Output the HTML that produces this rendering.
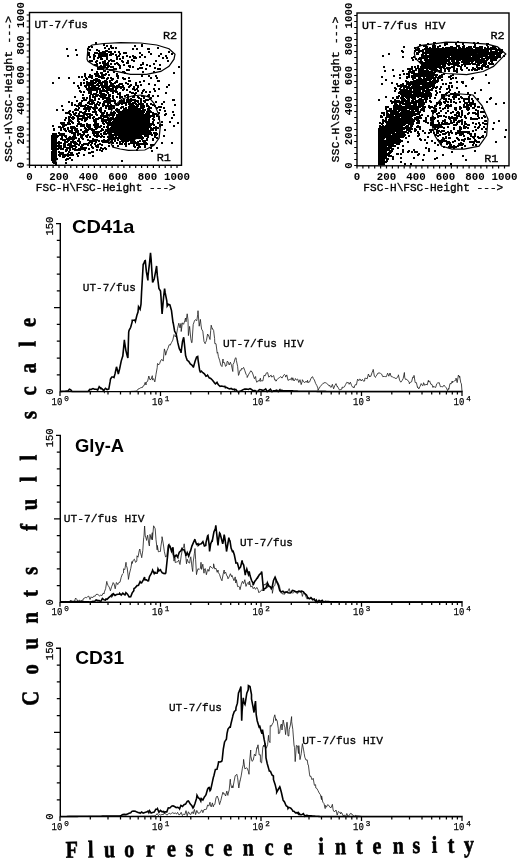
<!DOCTYPE html>
<html><head><meta charset="utf-8"><title>Flow cytometry</title>
<style>html,body{margin:0;padding:0;background:#fff;width:520px;height:861px;overflow:hidden}svg{display:block;filter:grayscale(1)}</style>
</head><body><svg width="520" height="861" viewBox="0 0 520 861"><g transform="translate(0,0)"><path d="M0 0m96 43h0m8 2h0m38 0h0m-35 1h0m4 0h0m24 0h0m7 0h0m-53 1h0m3 0h0m19 0h0m-6 1h0m7 0h0m1 0h0m3 0h0m42 0h0m-91 1h0m21 0h0m21 0h0m24 0h0m4 0h0m11 0h0m1 0h0m-73 1h0m14 0h0m7 0h0m2 1h0m7 0h0m1 0h0m-4 1h0m2 0h0m4 0h0m2 0h0m4 0h0m4 0h0m30 0h0m20 0h0m-80 1h0m6 0h0m2 0h0m3 0h0m2 0h0m1 0h0m1 0h0m1 0h0m19 0h0m2 0h0m14 0h0m-41 1h0m1 0h0m2 0h0m2 0h0m1 0h0m1 0h0m1 0h0m4 0h0m1 0h0m1 0h0m7 0h0m31 0h0m10 0h0m11 0h0m-95 1h0m11 0h0m1 0h0m5 0h0m5 0h0m3 0h0m3 0h0m5 0h0m1 0h0m5 0h0m26 0h0m-74 1h0m27 0h0m5 0h0m2 0h0m1 0h0m2 0h0m2 0h0m12 0h0m8 0h0m6 0h0m26 0h0m7 0h0m-76 1h0m4 0h0m5 0h0m2 0h0m6 0h0m10 0h0m6 0h0m7 0h0m5 0h0m5 0h0m5 0h0m-47 1h0m25 0h0m11 0h0m2 0h0m27 0h0m4 0h0m-73 1h0m7 0h0m1 0h0m5 0h0m10 0h0m3 0h0m-9 1h0m21 0h0m-42 1h0m2 0h0m5 0h0m8 0h0m4 0h0m3 0h0m2 0h0m8 0h0m6 0h0m6 0h0m22 0h0m12 0h0m-72 1h0m7 0h0m1 0h0m1 0h0m18 0h0m-23 1h0m3 0h0m5 0h0m9 0h0m10 0h0m1 0h0m15 0h0m-46 1h0m7 0h0m1 0h0m2 0h0m1 0h0m3 0h0m4 0h0m3 0h0m25 0h0m11 0h0m-59 1h0m1 0h0m1 0h0m9 0h0m13 0h0m5 0h0m17 0h0m6 0h0m13 0h0m-59 1h0m3 0h0m4 0h0m1 0h0m11 0h0m9 0h0m1 0h0m20 0h0m-50 1h0m2 0h0m2 0h0m1 0h0m3 0h0m3 0h0m2 0h0m17 0h0m3 0h0m46 0h0m-81 1h0m9 0h0m13 0h0m20 0h0m2 0h0m13 0h0m-57 1h0m1 0h0m2 0h0m2 0h0m4 0h0m7 0h0m2 0h0m22 0h0m8 0h0m12 0h0m2 0h0m-68 1h0m18 0h0m2 0h0m15 0h0m2 0h0m-25 1h0m1 0h0m-8 1h0m11 0h0m6 0h0m9 0h0m1 0h0m19 0h0m11 0h0m-57 1h0m4 0h0m1 0h0m23 0h0m49 0h0m-89 1h0m10 0h0m2 0h0m1 0h0m8 0h0m11 0h0m-27 1h0m8 0h0m4 0h0m2 0h0m1 0h0m4 0h0m-24 1h0m7 0h0m4 0h0m2 0h0m1 0h0m4 0h0m14 0h0m1 0h0m24 0h0m7 0h0m7 0h0m-77 1h0m3 0h0m7 0h0m1 0h0m9 0h0m2 0h0m-42 1h0m10 0h0m17 0h0m6 0h0m10 0h0m2 0h0m4 0h0m3 0h0m7 0h0m5 0h0m6 0h0m22 0h0m6 0h0m-70 1h0m9 0h0m1 0h0m10 0h0m6 0h0m11 0h0m1 0h0m-41 1h0m10 0h0m2 0h0m3 0h0m13 0h0m-21 1h0m2 0h0m5 0h0m1 0h0m1 0h0m5 0h0m1 0h0m4 0h0m7 0h0m12 0h0m1 0h0m14 0h0m14 0h0m1 0h0m-72 1h0m9 0h0m4 0h0m3 0h0m1 0h0m1 0h0m1 0h0m1 0h0m3 0h0m6 0h0m1 0h0m23 0h0m-87 1h0m21 0h0m7 0h0m3 0h0m5 0h0m2 0h0m1 0h0m2 0h0m1 0h0m4 0h0m2 0h0m6 0h0m4 0h0m4 0h0m11 0h0m10 0h0m-49 1h0m4 0h0m1 0h0m6 0h0m4 0h0m3 0h0m6 0h0m1 0h0m1 0h0m7 0h0m2 0h0m6 0h0m8 0h0m13 0h0m-68 1h0m6 0h0m2 0h0m2 0h0m1 0h0m1 0h0m4 0h0m1 0h0m3 0h0m4 0h0m2 0h0m12 0h0m12 0h0m5 0h0m5 0h0m14 0h0m14 0h0m-91 1h0m7 0h0m7 0h0m3 0h0m4 0h0m4 0h0m3 0h0m4 0h0m2 0h0m2 0h0m3 0h0m2 0h0m4 0h0m7 0h0m8 0h0m-52 1h0m3 0h0m5 0h0m8 0h0m3 0h0m3 0h0m6 0h0m1 0h0m1 0h0m2 0h0m2 0h0m2 0h0m7 0h0m5 0h0m4 0h0m29 0h0m-88 1h0m10 0h0m1 0h0m1 0h0m2 0h0m2 0h0m1 0h0m2 0h0m5 0h0m3 0h0m1 0h0m1 0h0m1 0h0m4 0h0m4 0h0m4 0h0m3 0h0m-37 1h0m2 0h0m2 0h0m1 0h0m6 0h0m2 0h0m3 0h0m4 0h0m1 0h0m2 0h0m1 0h0m1 0h0m1 0h0m3 0h0m8 0h0m9 0h0m1 0h0m3 0h0m17 0h0m5 0h0m-71 1h0m2 0h0m2 0h0m2 0h0m1 0h0m2 0h0m7 0h0m3 0h0m2 0h0m3 0h0m4 0h0m7 0h0m4 0h0m8 0h0m9 0h0m-64 1h0m17 0h0m3 0h0m1 0h0m2 0h0m1 0h0m2 0h0m1 0h0m4 0h0m2 0h0m1 0h0m1 0h0m23 0h0m5 0h0m12 0h0m-74 1h0m3 0h0m5 0h0m2 0h0m6 0h0m4 0h0m6 0h0m9 0h0m1 0h0m13 0h0m16 0h0m4 0h0m-61 1h0m1 0h0m1 0h0m9 0h0m8 0h0m5 0h0m7 0h0m12 0h0m1 0h0m3 0h0m6 0h0m24 0h0m-75 1h0m3 0h0m1 0h0m1 0h0m5 0h0m1 0h0m2 0h0m14 0h0m1 0h0m16 0h0m-52 1h0m10 0h0m4 0h0m1 0h0m6 0h0m1 0h0m1 0h0m3 0h0m1 0h0m10 0h0m7 0h0m1 0h0m21 0h0m-59 1h0m6 0h0m1 0h0m3 0h0m1 0h0m2 0h0m1 0h0m6 0h0m3 0h0m7 0h0m5 0h0m9 0h0m8 0h0m6 0h0m1 0h0m4 0h0m5 0h0m-83 1h0m15 0h0m3 0h0m2 0h0m6 0h0m1 0h0m1 0h0m2 0h0m4 0h0m8 0h0m3 0h0m2 0h0m6 0h0m5 0h0m1 0h0m4 0h0m6 0h0m-61 1h0m1 0h0m3 0h0m8 0h0m9 0h0m2 0h0m2 0h0m5 0h0m7 0h0m8 0h0m11 0h0m5 0h0m7 0h0m-67 1h0m6 0h0m9 0h0m4 0h0m7 0h0m21 0h0m10 0h0m9 0h0m-66 1h0m1 0h0m1 0h0m6 0h0m3 0h0m12 0h0m2 0h0m5 0h0m10 0h0m3 0h0m2 0h0m1 0h0m3 0h0m2 0h0m11 0h0m2 0h0m25 0h0m1 0h0m-97 1h0m5 0h0m8 0h0m2 0h0m1 0h0m12 0h0m6 0h0m2 0h0m1 0h0m1 0h0m5 0h0m1 0h0m2 0h0m4 0h0m1 0h0m1 0h0m2 0h0m5 0h0m2 0h0m3 0h0m3 0h0m-75 1h0m20 0h0m9 0h0m6 0h0m2 0h0m1 0h0m2 0h0m13 0h0m2 0h0m4 0h0m7 0h0m3 0h0m7 0h0m11 0h0m8 0h0m-92 1h0m8 0h0m1 0h0m7 0h0m4 0h0m1 0h0m1 0h0m6 0h0m10 0h0m5 0h0m5 0h0m2 0h0m2 0h0m2 0h0m4 0h0m3 0h0m1 0h0m7 0h0m-62 1h0m2 0h0m9 0h0m1 0h0m1 0h0m5 0h0m6 0h0m1 0h0m4 0h0m8 0h0m3 0h0m3 0h0m7 0h0m1 0h0m1 0h0m2 0h0m3 0h0m3 0h0m1 0h0m2 0h0m1 0h0m4 0h0m4 0h0m11 0h0m-90 1h0m3 0h0m5 0h0m6 0h0m9 0h0m4 0h0m4 0h0m1 0h0m7 0h0m6 0h0m1 0h0m8 0h0m4 0h0m2 0h0m5 0h0m16 0h0m22 0h0m-113 1h0m15 0h0m1 0h0m3 0h0m1 0h0m2 0h0m4 0h0m7 0h0m1 0h0m7 0h0m3 0h0m1 0h0m2 0h0m2 0h0m1 0h0m1 0h0m18 0h0m3 0h0m4 0h0m3 0h0m1 0h0m2 0h0m3 0h0m1 0h0m7 0h0m-70 1h0m3 0h0m1 0h0m2 0h0m18 0h0m1 0h0m1 0h0m3 0h0m8 0h0m1 0h0m6 0h0m1 0h0m1 0h0m1 0h0m1 0h0m2 0h0m1 0h0m6 0h0m2 0h0m5 0h0m10 0h0m2 0h0m-82 1h0m8 0h0m6 0h0m2 0h0m2 0h0m4 0h0m5 0h0m8 0h0m7 0h0m5 0h0m3 0h0m3 0h0m1 0h0m2 0h0m2 0h0m4 0h0m10 0h0m6 0h0m7 0h0m-88 1h0m8 0h0m1 0h0m1 0h0m1 0h0m2 0h0m1 0h0m4 0h0m6 0h0m1 0h0m8 0h0m2 0h0m6 0h0m7 0h0m1 0h0m1 0h0m3 0h0m2 0h0m2 0h0m1 0h0m1 0h0m1 0h0m2 0h0m1 0h0m1 0h0m3 0h0m5 0h0m1 0h0m-92 1h0m6 0h0m12 0h0m2 0h0m1 0h0m8 0h0m9 0h0m4 0h0m17 0h0m2 0h0m1 0h0m7 0h0m2 0h0m2 0h0m1 0h0m1 0h0m1 0h0m1 0h0m1 0h0m1 0h0m1 0h0m2 0h0m1 0h0m5 0h0m4 0h0m11 0h0m-90 1h0m16 0h0m3 0h0m11 0h0m1 0h0m4 0h0m12 0h0m1 0h0m1 0h0m4 0h0m2 0h0m2 0h0m1 0h0m1 0h0m1 0h0m1 0h0m2 0h0m3 0h0m1 0h0m1 0h0m1 0h0m1 0h0m1 0h0m1 0h0m1 0h0m5 0h0m2 0h0m15 0h0m-96 1h0m4 0h0m7 0h0m1 0h0m4 0h0m8 0h0m1 0h0m2 0h0m5 0h0m13 0h0m4 0h0m3 0h0m1 0h0m1 0h0m1 0h0m1 0h0m1 0h0m1 0h0m1 0h0m1 0h0m1 0h0m1 0h0m1 0h0m1 0h0m1 0h0m1 0h0m2 0h0m1 0h0m2 0h0m1 0h0m1 0h0m1 0h0m1 0h0m3 0h0m2 0h0m2 0h0m22 0h0m-107 1h0m2 0h0m8 0h0m7 0h0m19 0h0m2 0h0m3 0h0m4 0h0m1 0h0m3 0h0m4 0h0m1 0h0m1 0h0m1 0h0m1 0h0m1 0h0m1 0h0m1 0h0m1 0h0m1 0h0m1 0h0m1 0h0m1 0h0m1 0h0m1 0h0m2 0h0m1 0h0m1 0h0m1 0h0m1 0h0m1 0h0m1 0h0m1 0h0m1 0h0m5 0h0m5 0h0m6 0h0m-89 1h0m4 0h0m1 0h0m4 0h0m6 0h0m1 0h0m2 0h0m2 0h0m6 0h0m6 0h0m1 0h0m8 0h0m1 0h0m1 0h0m1 0h0m5 0h0m1 0h0m1 0h0m1 0h0m1 0h0m1 0h0m2 0h0m1 0h0m1 0h0m1 0h0m1 0h0m1 0h0m1 0h0m1 0h0m1 0h0m1 0h0m1 0h0m1 0h0m1 0h0m1 0h0m1 0h0m2 0h0m1 0h0m3 0h0m2 0h0m1 0h0m4 0h0m2 0h0m1 0h0m10 0h0m-95 1h0m4 0h0m9 0h0m3 0h0m5 0h0m5 0h0m10 0h0m2 0h0m1 0h0m1 0h0m2 0h0m1 0h0m3 0h0m1 0h0m1 0h0m1 0h0m1 0h0m1 0h0m1 0h0m1 0h0m1 0h0m1 0h0m1 0h0m3 0h0m1 0h0m1 0h0m1 0h0m1 0h0m3 0h0m1 0h0m1 0h0m1 0h0m1 0h0m1 0h0m1 0h0m1 0h0m2 0h0m1 0h0m2 0h0m5 0h0m3 0h0m8 0h0m9 0h0m-97 1h0m2 0h0m2 0h0m2 0h0m7 0h0m11 0h0m2 0h0m2 0h0m2 0h0m10 0h0m1 0h0m1 0h0m2 0h0m1 0h0m1 0h0m1 0h0m3 0h0m1 0h0m1 0h0m1 0h0m1 0h0m1 0h0m1 0h0m1 0h0m1 0h0m1 0h0m1 0h0m1 0h0m1 0h0m1 0h0m1 0h0m1 0h0m1 0h0m2 0h0m1 0h0m1 0h0m4 0h0m2 0h0m4 0h0m-88 1h0m1 0h0m3 0h0m11 0h0m4 0h0m6 0h0m7 0h0m3 0h0m2 0h0m7 0h0m5 0h0m1 0h0m1 0h0m1 0h0m1 0h0m1 0h0m1 0h0m1 0h0m1 0h0m1 0h0m1 0h0m1 0h0m1 0h0m1 0h0m1 0h0m1 0h0m1 0h0m1 0h0m1 0h0m1 0h0m2 0h0m1 0h0m1 0h0m1 0h0m1 0h0m1 0h0m1 0h0m1 0h0m1 0h0m2 0h0m1 0h0m4 0h0m5 0h0m-93 1h0m3 0h0m3 0h0m1 0h0m1 0h0m4 0h0m5 0h0m2 0h0m2 0h0m3 0h0m3 0h0m6 0h0m2 0h0m7 0h0m3 0h0m5 0h0m2 0h0m1 0h0m1 0h0m1 0h0m1 0h0m1 0h0m2 0h0m1 0h0m1 0h0m1 0h0m1 0h0m1 0h0m1 0h0m1 0h0m1 0h0m1 0h0m3 0h0m1 0h0m1 0h0m1 0h0m1 0h0m1 0h0m1 0h0m1 0h0m1 0h0m2 0h0m1 0h0m1 0h0m10 0h0m13 0h0m-99 1h0m5 0h0m2 0h0m2 0h0m3 0h0m2 0h0m9 0h0m2 0h0m5 0h0m5 0h0m1 0h0m3 0h0m1 0h0m2 0h0m1 0h0m1 0h0m1 0h0m1 0h0m1 0h0m1 0h0m1 0h0m1 0h0m1 0h0m1 0h0m1 0h0m1 0h0m1 0h0m1 0h0m1 0h0m1 0h0m1 0h0m1 0h0m1 0h0m1 0h0m1 0h0m1 0h0m1 0h0m1 0h0m1 0h0m1 0h0m1 0h0m1 0h0m1 0h0m1 0h0m1 0h0m1 0h0m1 0h0m1 0h0m4 0h0m6 0h0m-94 1h0m4 0h0m1 0h0m12 0h0m4 0h0m8 0h0m8 0h0m3 0h0m2 0h0m2 0h0m2 0h0m3 0h0m1 0h0m1 0h0m2 0h0m1 0h0m1 0h0m1 0h0m1 0h0m1 0h0m1 0h0m1 0h0m2 0h0m2 0h0m1 0h0m1 0h0m1 0h0m1 0h0m1 0h0m1 0h0m1 0h0m1 0h0m2 0h0m1 0h0m1 0h0m1 0h0m1 0h0m1 0h0m1 0h0m1 0h0m1 0h0m7 0h0m-83 1h0m7 0h0m7 0h0m9 0h0m2 0h0m6 0h0m2 0h0m1 0h0m10 0h0m1 0h0m1 0h0m1 0h0m1 0h0m1 0h0m1 0h0m1 0h0m1 0h0m1 0h0m1 0h0m1 0h0m1 0h0m1 0h0m1 0h0m1 0h0m1 0h0m1 0h0m1 0h0m1 0h0m1 0h0m1 0h0m1 0h0m1 0h0m1 0h0m2 0h0m1 0h0m1 0h0m1 0h0m1 0h0m1 0h0m1 0h0m1 0h0m1 0h0m-80 1h0m3 0h0m7 0h0m16 0h0m11 0h0m3 0h0m1 0h0m3 0h0m3 0h0m1 0h0m1 0h0m1 0h0m1 0h0m2 0h0m1 0h0m1 0h0m1 0h0m1 0h0m2 0h0m1 0h0m1 0h0m1 0h0m1 0h0m1 0h0m1 0h0m1 0h0m1 0h0m1 0h0m1 0h0m2 0h0m1 0h0m1 0h0m1 0h0m2 0h0m1 0h0m1 0h0m6 0h0m9 0h0m8 0h0m-109 1h0m2 0h0m1 0h0m4 0h0m5 0h0m22 0h0m1 0h0m7 0h0m4 0h0m4 0h0m4 0h0m1 0h0m1 0h0m1 0h0m1 0h0m2 0h0m1 0h0m1 0h0m2 0h0m1 0h0m1 0h0m1 0h0m2 0h0m1 0h0m1 0h0m1 0h0m1 0h0m1 0h0m1 0h0m1 0h0m1 0h0m1 0h0m1 0h0m1 0h0m1 0h0m1 0h0m1 0h0m1 0h0m1 0h0m1 0h0m1 0h0m1 0h0m4 0h0m5 0h0m20 0h0m-116 1h0m2 0h0m4 0h0m2 0h0m8 0h0m2 0h0m1 0h0m6 0h0m11 0h0m6 0h0m4 0h0m2 0h0m1 0h0m1 0h0m1 0h0m3 0h0m1 0h0m1 0h0m1 0h0m1 0h0m1 0h0m1 0h0m1 0h0m1 0h0m1 0h0m1 0h0m1 0h0m1 0h0m1 0h0m3 0h0m1 0h0m1 0h0m1 0h0m1 0h0m1 0h0m1 0h0m2 0h0m1 0h0m1 0h0m1 0h0m1 0h0m1 0h0m1 0h0m1 0h0m1 0h0m1 0h0m1 0h0m1 0h0m1 0h0m1 0h0m-90 1h0m3 0h0m16 0h0m2 0h0m4 0h0m2 0h0m4 0h0m1 0h0m1 0h0m12 0h0m2 0h0m1 0h0m1 0h0m1 0h0m1 0h0m1 0h0m1 0h0m1 0h0m2 0h0m1 0h0m1 0h0m1 0h0m1 0h0m1 0h0m2 0h0m1 0h0m1 0h0m1 0h0m1 0h0m1 0h0m1 0h0m1 0h0m1 0h0m4 0h0m1 0h0m1 0h0m1 0h0m1 0h0m1 0h0m2 0h0m2 0h0m1 0h0m3 0h0m3 0h0m6 0h0m1 0h0m1 0h0m-109 1h0m11 0h0m13 0h0m4 0h0m2 0h0m1 0h0m3 0h0m2 0h0m1 0h0m5 0h0m3 0h0m3 0h0m11 0h0m2 0h0m1 0h0m1 0h0m1 0h0m1 0h0m1 0h0m1 0h0m1 0h0m1 0h0m1 0h0m1 0h0m1 0h0m1 0h0m1 0h0m1 0h0m1 0h0m1 0h0m1 0h0m1 0h0m1 0h0m1 0h0m1 0h0m1 0h0m1 0h0m1 0h0m1 0h0m2 0h0m1 0h0m2 0h0m1 0h0m2 0h0m2 0h0m11 0h0m14 0h0m-115 1h0m1 0h0m3 0h0m8 0h0m1 0h0m2 0h0m14 0h0m2 0h0m5 0h0m1 0h0m2 0h0m1 0h0m1 0h0m4 0h0m3 0h0m6 0h0m2 0h0m1 0h0m1 0h0m1 0h0m2 0h0m2 0h0m1 0h0m1 0h0m1 0h0m1 0h0m1 0h0m1 0h0m1 0h0m1 0h0m2 0h0m3 0h0m1 0h0m1 0h0m1 0h0m1 0h0m2 0h0m1 0h0m1 0h0m1 0h0m1 0h0m1 0h0m1 0h0m1 0h0m1 0h0m1 0h0m6 0h0m-95 1h0m7 0h0m3 0h0m3 0h0m1 0h0m10 0h0m11 0h0m1 0h0m11 0h0m3 0h0m1 0h0m1 0h0m1 0h0m1 0h0m1 0h0m1 0h0m1 0h0m1 0h0m1 0h0m1 0h0m1 0h0m1 0h0m1 0h0m1 0h0m1 0h0m1 0h0m1 0h0m1 0h0m1 0h0m1 0h0m1 0h0m1 0h0m1 0h0m1 0h0m1 0h0m1 0h0m1 0h0m1 0h0m1 0h0m2 0h0m1 0h0m1 0h0m1 0h0m1 0h0m1 0h0m1 0h0m3 0h0m3 0h0m4 0h0m-104 1h0m7 0h0m3 0h0m1 0h0m3 0h0m4 0h0m5 0h0m9 0h0m3 0h0m1 0h0m2 0h0m4 0h0m6 0h0m6 0h0m2 0h0m2 0h0m3 0h0m1 0h0m1 0h0m1 0h0m1 0h0m1 0h0m2 0h0m1 0h0m1 0h0m1 0h0m1 0h0m1 0h0m1 0h0m1 0h0m1 0h0m1 0h0m1 0h0m1 0h0m1 0h0m1 0h0m1 0h0m1 0h0m1 0h0m1 0h0m1 0h0m1 0h0m2 0h0m1 0h0m1 0h0m1 0h0m1 0h0m1 0h0m3 0h0m2 0h0m3 0h0m-102 1h0m7 0h0m4 0h0m10 0h0m1 0h0m5 0h0m7 0h0m4 0h0m2 0h0m9 0h0m3 0h0m4 0h0m2 0h0m1 0h0m1 0h0m1 0h0m1 0h0m1 0h0m1 0h0m1 0h0m1 0h0m1 0h0m1 0h0m1 0h0m1 0h0m1 0h0m1 0h0m1 0h0m1 0h0m1 0h0m1 0h0m1 0h0m1 0h0m1 0h0m1 0h0m1 0h0m1 0h0m1 0h0m1 0h0m1 0h0m1 0h0m1 0h0m2 0h0m1 0h0m1 0h0m1 0h0m1 0h0m1 0h0m4 0h0m1 0h0m3 0h0m9 0h0m-99 1h0m3 0h0m1 0h0m2 0h0m6 0h0m7 0h0m2 0h0m6 0h0m8 0h0m6 0h0m2 0h0m2 0h0m3 0h0m2 0h0m1 0h0m1 0h0m2 0h0m1 0h0m1 0h0m1 0h0m1 0h0m1 0h0m2 0h0m2 0h0m1 0h0m1 0h0m1 0h0m1 0h0m1 0h0m1 0h0m1 0h0m1 0h0m1 0h0m1 0h0m1 0h0m1 0h0m1 0h0m1 0h0m1 0h0m1 0h0m1 0h0m1 0h0m1 0h0m2 0h0m-80 1h0m6 0h0m1 0h0m6 0h0m2 0h0m2 0h0m6 0h0m1 0h0m1 0h0m2 0h0m2 0h0m6 0h0m4 0h0m3 0h0m1 0h0m1 0h0m1 0h0m1 0h0m1 0h0m1 0h0m1 0h0m1 0h0m1 0h0m1 0h0m1 0h0m1 0h0m1 0h0m1 0h0m1 0h0m1 0h0m1 0h0m1 0h0m1 0h0m2 0h0m1 0h0m1 0h0m2 0h0m1 0h0m1 0h0m1 0h0m1 0h0m1 0h0m1 0h0m1 0h0m1 0h0m1 0h0m4 0h0m-91 1h0m13 0h0m2 0h0m4 0h0m6 0h0m9 0h0m1 0h0m2 0h0m8 0h0m1 0h0m3 0h0m2 0h0m1 0h0m4 0h0m2 0h0m1 0h0m2 0h0m1 0h0m1 0h0m1 0h0m1 0h0m1 0h0m1 0h0m1 0h0m1 0h0m1 0h0m1 0h0m1 0h0m1 0h0m1 0h0m1 0h0m1 0h0m1 0h0m1 0h0m1 0h0m1 0h0m1 0h0m1 0h0m1 0h0m1 0h0m1 0h0m1 0h0m3 0h0m3 0h0m3 0h0m2 0h0m-103 1h0m1 0h0m1 0h0m1 0h0m4 0h0m1 0h0m1 0h0m2 0h0m11 0h0m4 0h0m1 0h0m4 0h0m14 0h0m3 0h0m3 0h0m1 0h0m1 0h0m4 0h0m1 0h0m4 0h0m3 0h0m1 0h0m1 0h0m1 0h0m1 0h0m1 0h0m1 0h0m1 0h0m1 0h0m1 0h0m1 0h0m1 0h0m1 0h0m1 0h0m1 0h0m1 0h0m1 0h0m1 0h0m1 0h0m1 0h0m1 0h0m1 0h0m1 0h0m1 0h0m1 0h0m1 0h0m3 0h0m2 0h0m2 0h0m7 0h0m-104 1h0m3 0h0m4 0h0m2 0h0m1 0h0m1 0h0m10 0h0m1 0h0m3 0h0m3 0h0m2 0h0m5 0h0m6 0h0m3 0h0m14 0h0m2 0h0m2 0h0m1 0h0m2 0h0m2 0h0m1 0h0m1 0h0m1 0h0m2 0h0m1 0h0m1 0h0m1 0h0m1 0h0m1 0h0m1 0h0m2 0h0m1 0h0m1 0h0m1 0h0m1 0h0m1 0h0m1 0h0m2 0h0m4 0h0m1 0h0m1 0h0m1 0h0m4 0h0m3 0h0m1 0h0m-104 1h0m2 0h0m1 0h0m1 0h0m2 0h0m7 0h0m1 0h0m9 0h0m6 0h0m5 0h0m9 0h0m4 0h0m3 0h0m8 0h0m2 0h0m7 0h0m2 0h0m1 0h0m1 0h0m2 0h0m1 0h0m4 0h0m1 0h0m1 0h0m1 0h0m1 0h0m1 0h0m1 0h0m2 0h0m1 0h0m1 0h0m5 0h0m2 0h0m1 0h0m16 0h0m-112 1h0m1 0h0m1 0h0m1 0h0m1 0h0m1 0h0m5 0h0m4 0h0m4 0h0m3 0h0m1 0h0m7 0h0m1 0h0m5 0h0m3 0h0m7 0h0m4 0h0m3 0h0m4 0h0m5 0h0m3 0h0m3 0h0m1 0h0m1 0h0m1 0h0m1 0h0m3 0h0m1 0h0m1 0h0m1 0h0m2 0h0m1 0h0m1 0h0m1 0h0m1 0h0m1 0h0m1 0h0m3 0h0m2 0h0m6 0h0m7 0h0m-103 1h0m1 0h0m1 0h0m1 0h0m1 0h0m6 0h0m7 0h0m3 0h0m4 0h0m6 0h0m27 0h0m1 0h0m1 0h0m2 0h0m1 0h0m3 0h0m1 0h0m2 0h0m3 0h0m2 0h0m3 0h0m1 0h0m2 0h0m1 0h0m1 0h0m1 0h0m3 0h0m1 0h0m2 0h0m1 0h0m2 0h0m14 0h0m-105 1h0m2 0h0m1 0h0m1 0h0m5 0h0m6 0h0m1 0h0m3 0h0m2 0h0m1 0h0m5 0h0m4 0h0m10 0h0m18 0h0m2 0h0m1 0h0m1 0h0m6 0h0m2 0h0m1 0h0m1 0h0m1 0h0m3 0h0m1 0h0m1 0h0m1 0h0m2 0h0m8 0h0m5 0h0m6 0h0m-99 1h0m1 0h0m1 0h0m7 0h0m2 0h0m4 0h0m10 0h0m9 0h0m7 0h0m2 0h0m7 0h0m4 0h0m7 0h0m3 0h0m5 0h0m3 0h0m1 0h0m3 0h0m1 0h0m1 0h0m2 0h0m13 0h0m6 0h0m-101 1h0m1 0h0m1 0h0m1 0h0m1 0h0m12 0h0m5 0h0m5 0h0m12 0h0m2 0h0m2 0h0m5 0h0m3 0h0m4 0h0m6 0h0m3 0h0m7 0h0m3 0h0m1 0h0m1 0h0m1 0h0m3 0h0m3 0h0m6 0h0m3 0h0m2 0h0m-93 1h0m1 0h0m1 0h0m1 0h0m1 0h0m3 0h0m6 0h0m2 0h0m4 0h0m1 0h0m1 0h0m2 0h0m5 0h0m10 0h0m2 0h0m4 0h0m7 0h0m2 0h0m1 0h0m1 0h0m1 0h0m3 0h0m1 0h0m8 0h0m3 0h0m8 0h0m1 0h0m2 0h0m1 0h0m3 0h0m6 0h0m-92 1h0m3 0h0m1 0h0m2 0h0m2 0h0m1 0h0m10 0h0m3 0h0m2 0h0m4 0h0m9 0h0m3 0h0m17 0h0m4 0h0m4 0h0m3 0h0m6 0h0m5 0h0m1 0h0m2 0h0m1 0h0m1 0h0m1 0h0m9 0h0m16 0h0m10 0h0m-120 1h0m1 0h0m1 0h0m2 0h0m8 0h0m1 0h0m4 0h0m6 0h0m1 0h0m1 0h0m7 0h0m2 0h0m1 0h0m8 0h0m5 0h0m20 0h0m2 0h0m3 0h0m4 0h0m10 0h0m1 0h0m1 0h0m2 0h0m2 0h0m2 0h0m-95 1h0m1 0h0m2 0h0m1 0h0m3 0h0m5 0h0m1 0h0m3 0h0m1 0h0m2 0h0m8 0h0m3 0h0m1 0h0m5 0h0m3 0h0m7 0h0m4 0h0m24 0h0m8 0h0m3 0h0m14 0h0m2 0h0m-100 1h0m1 0h0m2 0h0m1 0h0m1 0h0m3 0h0m3 0h0m7 0h0m2 0h0m2 0h0m7 0h0m14 0h0m13 0h0m4 0h0m5 0h0m8 0h0m8 0h0m5 0h0m6 0h0m-93 1h0m1 0h0m1 0h0m1 0h0m1 0h0m3 0h0m2 0h0m3 0h0m1 0h0m5 0h0m1 0h0m1 0h0m4 0h0m5 0h0m11 0h0m5 0h0m1 0h0m37 0h0m5 0h0m5 0h0m-92 1h0m1 0h0m1 0h0m1 0h0m3 0h0m8 0h0m2 0h0m1 0h0m13 0h0m1 0h0m2 0h0m7 0h0m8 0h0m4 0h0m33 0h0m13 0h0m6 0h0m-105 1h0m1 0h0m1 0h0m3 0h0m1 0h0m3 0h0m2 0h0m7 0h0m3 0h0m2 0h0m4 0h0m1 0h0m2 0h0m1 0h0m6 0h0m14 0h0m3 0h0m-53 1h0m1 0h0m1 0h0m11 0h0m1 0h0m3 0h0m5 0h0m2 0h0m1 0h0m2 0h0m5 0h0m12 0h0m3 0h0m37 0h0m-84 1h0m1 0h0m1 0h0m1 0h0m10 0h0m36 0h0m50 0h0m-100 1h0m1 0h0m1 0h0m1 0h0m1 0h0m3 0h0m10 0h0m23 0h0m1 0h0m-40 1h0m1 0h0m1 0h0m1 0h0m5 0h0m2 0h0m8 0h0m1 0h0m7 0h0m10 0h0m1 0h0m-38 1h0m1 0h0m1 0h0m1 0h0m5 0h0m2 0h0m6 0h0m3 0h0m1 0h0m5 0h0m-23 1h0m2 0h0m3 0h0m5 0h0m2 0h0m1 0h0m2 0h0m2 0h0m2 0h0m11 0h0m-32 1h0m2 0h0m1 0h0m1 0h0m4 0h0m3 0h0m1 0h0m1 0h0m3 0h0m10 0h0m15 0h0m-41 1h0m1 0h0m2 0h0m8 0h0m1 0h0m-12 1h0m2 0h0m1 0h0m1 0h0m14 0h0m-16 1h0m2 0h0m1 0h0m10 0h0m1 0h0m-16 1h0m1 0h0m2 0h0m11 0h0m6 0h0m-19 1h0m1 0h0m68 0h0m-69 1h0m2 0h0m-1 1h0m1 0h0m1 0h0m10 0h0m-10 1h0" stroke="#000" stroke-width="2.0" stroke-linecap="square" fill="none"/><ellipse cx="130" cy="131" rx="12" ry="10" fill="#000"/><path d="M52.5 162V141L54 137L56 147L56.5 162Z" fill="#000"/><polygon points="87,59.2 88,48.1 92,45 104,43.5 120.4,42.7 140.6,43 156.8,45 169,48.7 175,54.2 174,59.2 169,66.3 160.8,71.4 146.7,74.4 130.5,74.4 116.4,71.4 102.2,68.3 94,65.3 88,61.3" fill="none" stroke="#000" stroke-width="1.2"/><polygon points="112.9,147.2 120.2,149 128.4,150.4 144.8,150 154,145.3 159.1,138 160.4,125.2 158.6,114.3 154,103.3 148.5,96.9 141.2,95 132,96 122,99 113,107 108.5,118 108.3,130 109.5,140" fill="none" stroke="#000" stroke-width="1.2"/><rect x="29.5" y="12.5" width="152" height="152.8" fill="none" stroke="#000" stroke-width="1.4"/><path d="M29.5 165.3v2.8M35.4 165.3v2.8M41.3 165.3v2.8M47.2 165.3v2.8M53.1 165.3v2.8M59 165.3v2.8M64.9 165.3v2.8M70.8 165.3v2.8M76.7 165.3v2.8M82.6 165.3v2.8M88.5 165.3v2.8M94.4 165.3v2.8M100.3 165.3v2.8M106.2 165.3v2.8M112.1 165.3v2.8M118 165.3v2.8M123.9 165.3v2.8M129.8 165.3v2.8M135.7 165.3v2.8M141.6 165.3v2.8M147.5 165.3v2.8M153.4 165.3v2.8M159.3 165.3v2.8M165.2 165.3v2.8M171.1 165.3v2.8M177 165.3v2.8M29.5 165h-2.8M29.5 159h-2.8M29.5 153h-2.8M29.5 147h-2.8M29.5 141h-2.8M29.5 135h-2.8M29.5 129h-2.8M29.5 123h-2.8M29.5 117h-2.8M29.5 111h-2.8M29.5 105h-2.8M29.5 99h-2.8M29.5 93h-2.8M29.5 87h-2.8M29.5 81h-2.8M29.5 75h-2.8M29.5 69h-2.8M29.5 63h-2.8M29.5 57h-2.8M29.5 51h-2.8M29.5 45h-2.8M29.5 39h-2.8M29.5 33h-2.8M29.5 27h-2.8M29.5 21h-2.8M29.5 15h-2.8" stroke="#000" stroke-width="1.2"/><g font-family='"Liberation Mono", monospace' font-weight="bold" font-size="10.8" fill="#000"><text x="29.5" y="179.8" text-anchor="middle">0</text><text x="59" y="179.8" text-anchor="middle">200</text><text x="88.5" y="179.8" text-anchor="middle">400</text><text x="118" y="179.8" text-anchor="middle">600</text><text x="147.5" y="179.8" text-anchor="middle">800</text><text x="177" y="179.8" text-anchor="middle">1000</text><text transform="translate(24.2 165) rotate(-90)" text-anchor="middle">0</text><text transform="translate(24.2 135) rotate(-90)" text-anchor="middle">200</text><text transform="translate(24.2 105) rotate(-90)" text-anchor="middle">400</text><text transform="translate(24.2 75) rotate(-90)" text-anchor="middle">600</text><text transform="translate(24.2 45) rotate(-90)" text-anchor="middle">800</text><text transform="translate(24.2 15) rotate(-90)" text-anchor="middle">1000</text></g><text x="35.8" y="190.9" font-family='"Liberation Mono", monospace' font-size="11.2" stroke="#000" stroke-width="0.35" textLength="140" lengthAdjust="spacingAndGlyphs">FSC-H\FSC-Height ---&gt;</text><text transform="translate(11.6 162) rotate(-90)" font-family='"Liberation Mono", monospace' font-size="11.2" stroke="#000" stroke-width="0.35" textLength="146" lengthAdjust="spacingAndGlyphs">SSC-H\SSC-Height ---&gt;</text><text x="34.6" y="28.3" font-family='"Liberation Mono", monospace' font-size="11.8" stroke="#000" stroke-width="0.35" textLength="53.4" lengthAdjust="spacingAndGlyphs">UT-7/fus</text><text x="163" y="38.6" font-family='"Liberation Mono", monospace' font-size="11.8" stroke="#000" stroke-width="0.35">R2</text><text x="156.7" y="161" font-family='"Liberation Mono", monospace' font-size="11.8" stroke="#000" stroke-width="0.35">R1</text></g><g transform="translate(327.5,0.5)"><path d="M0 0m130.5 41.5h0m-24 1h0m1 0h0m11 0h0m28 0h0m4 0h0m-50 1h0m17 0h0m1 0h0m1 0h0m9 0h0m7 0h0m24 0h0m1 0h0m-68 1h0m14 0h0m11 0h0m30 0h0m12 0h0m-63 1h0m2 0h0m7 0h0m2 0h0m5 0h0m17 0h0m1 0h0m1 0h0m5 0h0m11 0h0m-71 1h0m22 0h0m1 0h0m11 0h0m13 0h0m1 0h0m11 0h0m6 0h0m2 0h0m3 0h0m6 0h0m2 0h0m6 0h0m5 0h0m2 0h0m-80 1h0m3 0h0m8 0h0m4 0h0m3 0h0m2 0h0m3 0h0m5 0h0m3 0h0m1 0h0m2 0h0m4 0h0m1 0h0m2 0h0m3 0h0m1 0h0m3 0h0m1 0h0m3 0h0m9 0h0m2 0h0m2 0h0m2 0h0m3 0h0m6 0h0m1 0h0m-73 1h0m6 0h0m1 0h0m2 0h0m2 0h0m1 0h0m1 0h0m1 0h0m1 0h0m1 0h0m1 0h0m1 0h0m2 0h0m2 0h0m1 0h0m2 0h0m1 0h0m1 0h0m1 0h0m4 0h0m1 0h0m2 0h0m1 0h0m1 0h0m5 0h0m1 0h0m2 0h0m1 0h0m4 0h0m2 0h0m1 0h0m4 0h0m4 0h0m5 0h0m2 0h0m2 0h0m2 0h0m1 0h0m2 0h0m1 0h0m1 0h0m3 0h0m-82 1h0m2 0h0m4 0h0m5 0h0m1 0h0m3 0h0m1 0h0m1 0h0m1 0h0m1 0h0m2 0h0m2 0h0m2 0h0m1 0h0m2 0h0m2 0h0m1 0h0m1 0h0m1 0h0m2 0h0m2 0h0m1 0h0m1 0h0m2 0h0m1 0h0m1 0h0m1 0h0m1 0h0m1 0h0m2 0h0m1 0h0m1 0h0m1 0h0m1 0h0m1 0h0m1 0h0m1 0h0m1 0h0m1 0h0m1 0h0m3 0h0m1 0h0m1 0h0m1 0h0m1 0h0m2 0h0m1 0h0m3 0h0m3 0h0m5 0h0m1 0h0m1 0h0m2 0h0m1 0h0m1 0h0m-100 1h0m13 0h0m6 0h0m5 0h0m2 0h0m1 0h0m2 0h0m1 0h0m1 0h0m3 0h0m1 0h0m1 0h0m1 0h0m1 0h0m2 0h0m1 0h0m1 0h0m2 0h0m1 0h0m1 0h0m1 0h0m1 0h0m4 0h0m1 0h0m1 0h0m1 0h0m1 0h0m1 0h0m4 0h0m2 0h0m1 0h0m2 0h0m1 0h0m1 0h0m2 0h0m1 0h0m1 0h0m1 0h0m1 0h0m1 0h0m1 0h0m2 0h0m2 0h0m1 0h0m1 0h0m2 0h0m1 0h0m9 0h0m1 0h0m3 0h0m-97 1h0m16 0h0m4 0h0m6 0h0m1 0h0m1 0h0m2 0h0m1 0h0m1 0h0m1 0h0m1 0h0m1 0h0m1 0h0m1 0h0m1 0h0m1 0h0m1 0h0m1 0h0m1 0h0m1 0h0m1 0h0m1 0h0m1 0h0m1 0h0m1 0h0m1 0h0m1 0h0m1 0h0m1 0h0m1 0h0m1 0h0m1 0h0m1 0h0m1 0h0m4 0h0m1 0h0m1 0h0m3 0h0m2 0h0m1 0h0m2 0h0m2 0h0m1 0h0m2 0h0m1 0h0m1 0h0m2 0h0m3 0h0m2 0h0m3 0h0m2 0h0m1 0h0m1 0h0m1 0h0m1 0h0m3 0h0m1 0h0m1 0h0m-85 1h0m8 0h0m1 0h0m1 0h0m1 0h0m1 0h0m1 0h0m2 0h0m1 0h0m1 0h0m2 0h0m1 0h0m1 0h0m1 0h0m1 0h0m1 0h0m3 0h0m1 0h0m2 0h0m2 0h0m1 0h0m1 0h0m1 0h0m2 0h0m2 0h0m1 0h0m1 0h0m2 0h0m3 0h0m2 0h0m1 0h0m1 0h0m1 0h0m1 0h0m2 0h0m2 0h0m1 0h0m1 0h0m4 0h0m1 0h0m1 0h0m1 0h0m1 0h0m1 0h0m1 0h0m3 0h0m1 0h0m1 0h0m1 0h0m3 0h0m1 0h0m2 0h0m1 0h0m1 0h0m1 0h0m1 0h0m-112 1h0m28 0h0m1 0h0m5 0h0m7 0h0m2 0h0m1 0h0m1 0h0m2 0h0m1 0h0m1 0h0m1 0h0m1 0h0m1 0h0m2 0h0m1 0h0m1 0h0m1 0h0m2 0h0m1 0h0m1 0h0m2 0h0m4 0h0m1 0h0m5 0h0m1 0h0m2 0h0m1 0h0m1 0h0m1 0h0m3 0h0m2 0h0m1 0h0m5 0h0m3 0h0m2 0h0m2 0h0m1 0h0m2 0h0m1 0h0m2 0h0m1 0h0m1 0h0m1 0h0m2 0h0m2 0h0m1 0h0m-78 1h0m1 0h0m3 0h0m6 0h0m1 0h0m1 0h0m1 0h0m1 0h0m2 0h0m1 0h0m1 0h0m1 0h0m1 0h0m1 0h0m2 0h0m1 0h0m2 0h0m3 0h0m2 0h0m2 0h0m2 0h0m2 0h0m3 0h0m2 0h0m1 0h0m2 0h0m1 0h0m1 0h0m1 0h0m1 0h0m1 0h0m1 0h0m1 0h0m1 0h0m1 0h0m1 0h0m2 0h0m1 0h0m1 0h0m1 0h0m9 0h0m3 0h0m4 0h0m-115 1h0m41 0h0m2 0h0m1 0h0m2 0h0m2 0h0m1 0h0m1 0h0m1 0h0m1 0h0m1 0h0m1 0h0m1 0h0m1 0h0m1 0h0m2 0h0m1 0h0m1 0h0m1 0h0m1 0h0m1 0h0m1 0h0m1 0h0m3 0h0m1 0h0m2 0h0m1 0h0m3 0h0m2 0h0m1 0h0m2 0h0m2 0h0m1 0h0m1 0h0m2 0h0m5 0h0m1 0h0m1 0h0m1 0h0m2 0h0m1 0h0m2 0h0m1 0h0m1 0h0m1 0h0m1 0h0m3 0h0m1 0h0m2 0h0m4 0h0m1 0h0m2 0h0m4 0h0m-101 1h0m11 0h0m8 0h0m7 0h0m1 0h0m1 0h0m1 0h0m1 0h0m1 0h0m1 0h0m1 0h0m1 0h0m1 0h0m1 0h0m1 0h0m1 0h0m1 0h0m2 0h0m1 0h0m1 0h0m2 0h0m1 0h0m4 0h0m1 0h0m1 0h0m1 0h0m2 0h0m1 0h0m1 0h0m1 0h0m1 0h0m2 0h0m1 0h0m2 0h0m2 0h0m1 0h0m3 0h0m4 0h0m3 0h0m1 0h0m1 0h0m5 0h0m1 0h0m3 0h0m4 0h0m1 0h0m1 0h0m1 0h0m1 0h0m1 0h0m-88 1h0m8 0h0m3 0h0m1 0h0m2 0h0m1 0h0m4 0h0m1 0h0m2 0h0m1 0h0m1 0h0m3 0h0m2 0h0m1 0h0m1 0h0m2 0h0m1 0h0m3 0h0m1 0h0m2 0h0m2 0h0m1 0h0m5 0h0m1 0h0m1 0h0m2 0h0m1 0h0m1 0h0m2 0h0m3 0h0m4 0h0m2 0h0m1 0h0m1 0h0m3 0h0m4 0h0m1 0h0m1 0h0m1 0h0m2 0h0m1 0h0m2 0h0m1 0h0m2 0h0m-81 1h0m3 0h0m1 0h0m1 0h0m4 0h0m1 0h0m4 0h0m1 0h0m1 0h0m1 0h0m1 0h0m1 0h0m1 0h0m2 0h0m1 0h0m1 0h0m1 0h0m2 0h0m6 0h0m1 0h0m2 0h0m2 0h0m1 0h0m1 0h0m1 0h0m1 0h0m3 0h0m3 0h0m2 0h0m3 0h0m1 0h0m1 0h0m1 0h0m2 0h0m4 0h0m1 0h0m5 0h0m4 0h0m5 0h0m1 0h0m1 0h0m-82 1h0m12 0h0m1 0h0m1 0h0m1 0h0m1 0h0m1 0h0m1 0h0m1 0h0m1 0h0m1 0h0m1 0h0m1 0h0m1 0h0m1 0h0m1 0h0m1 0h0m2 0h0m1 0h0m2 0h0m1 0h0m2 0h0m4 0h0m2 0h0m3 0h0m1 0h0m1 0h0m1 0h0m3 0h0m2 0h0m2 0h0m1 0h0m3 0h0m1 0h0m3 0h0m2 0h0m1 0h0m2 0h0m2 0h0m1 0h0m4 0h0m4 0h0m1 0h0m1 0h0m1 0h0m2 0h0m-75 1h0m6 0h0m1 0h0m1 0h0m1 0h0m1 0h0m2 0h0m1 0h0m1 0h0m1 0h0m1 0h0m3 0h0m1 0h0m3 0h0m3 0h0m1 0h0m1 0h0m3 0h0m1 0h0m4 0h0m1 0h0m6 0h0m1 0h0m3 0h0m1 0h0m1 0h0m3 0h0m3 0h0m1 0h0m1 0h0m2 0h0m1 0h0m3 0h0m2 0h0m5 0h0m1 0h0m-72 1h0m2 0h0m4 0h0m1 0h0m2 0h0m1 0h0m1 0h0m1 0h0m1 0h0m1 0h0m2 0h0m1 0h0m1 0h0m1 0h0m2 0h0m1 0h0m1 0h0m1 0h0m1 0h0m8 0h0m1 0h0m4 0h0m4 0h0m2 0h0m2 0h0m2 0h0m1 0h0m3 0h0m4 0h0m2 0h0m1 0h0m3 0h0m1 0h0m1 0h0m2 0h0m6 0h0m-68 1h0m1 0h0m1 0h0m1 0h0m1 0h0m1 0h0m1 0h0m1 0h0m2 0h0m1 0h0m1 0h0m1 0h0m1 0h0m2 0h0m2 0h0m1 0h0m1 0h0m3 0h0m3 0h0m1 0h0m5 0h0m1 0h0m1 0h0m2 0h0m7 0h0m2 0h0m4 0h0m6 0h0m3 0h0m3 0h0m1 0h0m4 0h0m3 0h0m-70 1h0m4 0h0m1 0h0m1 0h0m3 0h0m1 0h0m1 0h0m1 0h0m1 0h0m2 0h0m2 0h0m3 0h0m3 0h0m3 0h0m2 0h0m1 0h0m1 0h0m1 0h0m11 0h0m2 0h0m2 0h0m2 0h0m3 0h0m2 0h0m3 0h0m1 0h0m6 0h0m1 0h0m4 0h0m2 0h0m1 0h0m-71 1h0m1 0h0m1 0h0m1 0h0m1 0h0m1 0h0m1 0h0m1 0h0m1 0h0m1 0h0m1 0h0m1 0h0m1 0h0m1 0h0m1 0h0m2 0h0m2 0h0m3 0h0m1 0h0m1 0h0m4 0h0m5 0h0m2 0h0m2 0h0m4 0h0m15 0h0m1 0h0m1 0h0m4 0h0m1 0h0m-66 1h0m5 0h0m2 0h0m1 0h0m1 0h0m1 0h0m1 0h0m1 0h0m1 0h0m1 0h0m1 0h0m1 0h0m1 0h0m4 0h0m4 0h0m2 0h0m13 0h0m1 0h0m6 0h0m12 0h0m5 0h0m2 0h0m1 0h0m3 0h0m-104 1h0m28 0h0m3 0h0m6 0h0m1 0h0m2 0h0m2 0h0m1 0h0m1 0h0m1 0h0m1 0h0m1 0h0m1 0h0m1 0h0m1 0h0m1 0h0m1 0h0m1 0h0m1 0h0m3 0h0m1 0h0m10 0h0m1 0h0m1 0h0m7 0h0m16 0h0m9 0h0m2 0h0m-76 1h0m6 0h0m7 0h0m4 0h0m1 0h0m1 0h0m1 0h0m1 0h0m1 0h0m1 0h0m1 0h0m4 0h0m4 0h0m3 0h0m1 0h0m1 0h0m1 0h0m4 0h0m13 0h0m6 0h0m5 0h0m2 0h0m2 0h0m-74 1h0m2 0h0m2 0h0m4 0h0m3 0h0m2 0h0m1 0h0m1 0h0m4 0h0m3 0h0m1 0h0m1 0h0m1 0h0m1 0h0m1 0h0m1 0h0m5 0h0m4 0h0m3 0h0m1 0h0m5 0h0m3 0h0m4 0h0m12 0h0m2 0h0m4 0h0m3 0h0m-89 1h0m23 0h0m4 0h0m1 0h0m1 0h0m12 0h0m1 0h0m1 0h0m1 0h0m4 0h0m13 0h0m3 0h0m5 0h0m7 0h0m3 0h0m3 0h0m2 0h0m-92 1h0m18 0h0m7 0h0m3 0h0m1 0h0m5 0h0m2 0h0m2 0h0m1 0h0m2 0h0m2 0h0m4 0h0m3 0h0m1 0h0m3 0h0m1 0h0m5 0h0m4 0h0m5 0h0m2 0h0m-47 1h0m2 0h0m2 0h0m10 0h0m1 0h0m1 0h0m1 0h0m3 0h0m2 0h0m4 0h0m5 0h0m1 0h0m16 0h0m-45 1h0m1 0h0m1 0h0m5 0h0m2 0h0m1 0h0m1 0h0m3 0h0m2 0h0m5 0h0m-29 1h0m3 0h0m2 0h0m7 0h0m1 0h0m1 0h0m4 0h0m1 0h0m1 0h0m1 0h0m4 0h0m2 0h0m3 0h0m10 0h0m-44 1h0m9 0h0m5 0h0m2 0h0m2 0h0m1 0h0m1 0h0m1 0h0m2 0h0m1 0h0m2 0h0m1 0h0m2 0h0m4 0h0m2 0h0m1 0h0m1 0h0m5 0h0m11 0h0m33 0h0m-92 1h0m18 0h0m1 0h0m4 0h0m1 0h0m2 0h0m1 0h0m1 0h0m3 0h0m1 0h0m2 0h0m2 0h0m1 0h0m2 0h0m7 0h0m11 0h0m-69 1h0m25 0h0m2 0h0m3 0h0m1 0h0m2 0h0m5 0h0m4 0h0m5 0h0m4 0h0m3 0h0m3 0h0m3 0h0m7 0h0m1 0h0m-50 1h0m7 0h0m6 0h0m1 0h0m1 0h0m4 0h0m1 0h0m4 0h0m3 0h0m1 0h0m1 0h0m2 0h0m1 0h0m2 0h0m1 0h0m3 0h0m1 0h0m1 0h0m13 0h0m3 0h0m17 0h0m-60 1h0m7 0h0m1 0h0m4 0h0m2 0h0m3 0h0m1 0h0m3 0h0m4 0h0m13 0h0m21 0h0m-86 1h0m31 0h0m2 0h0m2 0h0m1 0h0m1 0h0m3 0h0m1 0h0m1 0h0m2 0h0m5 0h0m3 0h0m4 0h0m-36 1h0m8 0h0m2 0h0m2 0h0m3 0h0m1 0h0m1 0h0m2 0h0m1 0h0m7 0h0m2 0h0m1 0h0m2 0h0m-31 1h0m1 0h0m3 0h0m1 0h0m7 0h0m2 0h0m2 0h0m2 0h0m1 0h0m4 0h0m1 0h0m1 0h0m1 0h0m1 0h0m1 0h0m1 0h0m1 0h0m20 0h0m5 0h0m1 0h0m-71 1h0m16 0h0m2 0h0m2 0h0m1 0h0m2 0h0m1 0h0m1 0h0m2 0h0m1 0h0m3 0h0m1 0h0m1 0h0m1 0h0m1 0h0m1 0h0m1 0h0m1 0h0m2 0h0m1 0h0m2 0h0m15 0h0m1 0h0m12 0h0m26 0h0m-107 1h0m15 0h0m6 0h0m4 0h0m2 0h0m1 0h0m1 0h0m2 0h0m1 0h0m1 0h0m1 0h0m2 0h0m3 0h0m1 0h0m3 0h0m1 0h0m1 0h0m1 0h0m3 0h0m1 0h0m11 0h0m3 0h0m-45 1h0m9 0h0m4 0h0m1 0h0m1 0h0m1 0h0m2 0h0m4 0h0m2 0h0m3 0h0m1 0h0m3 0h0m1 0h0m1 0h0m-36 1h0m1 0h0m4 0h0m2 0h0m1 0h0m3 0h0m4 0h0m1 0h0m3 0h0m6 0h0m1 0h0m1 0h0m1 0h0m1 0h0m1 0h0m1 0h0m1 0h0m1 0h0m1 0h0m1 0h0m16 0h0m3 0h0m14 0h0m-65 1h0m3 0h0m1 0h0m1 0h0m2 0h0m1 0h0m3 0h0m3 0h0m1 0h0m3 0h0m2 0h0m2 0h0m1 0h0m2 0h0m3 0h0m1 0h0m4 0h0m3 0h0m4 0h0m11 0h0m-57 1h0m12 0h0m1 0h0m2 0h0m1 0h0m1 0h0m1 0h0m1 0h0m2 0h0m2 0h0m6 0h0m2 0h0m2 0h0m5 0h0m3 0h0m13 0h0m8 0h0m-61 1h0m4 0h0m4 0h0m3 0h0m3 0h0m1 0h0m3 0h0m4 0h0m2 0h0m2 0h0m10 0h0m8 0h0m7 0h0m-46 1h0m2 0h0m2 0h0m6 0h0m5 0h0m1 0h0m1 0h0m2 0h0m3 0h0m1 0h0m3 0h0m2 0h0m1 0h0m2 0h0m18 0h0m31 0h0m-86 1h0m7 0h0m1 0h0m1 0h0m1 0h0m1 0h0m2 0h0m2 0h0m4 0h0m1 0h0m4 0h0m1 0h0m3 0h0m1 0h0m1 0h0m1 0h0m2 0h0m1 0h0m7 0h0m-36 1h0m1 0h0m2 0h0m3 0h0m2 0h0m2 0h0m1 0h0m2 0h0m2 0h0m2 0h0m3 0h0m6 0h0m1 0h0m1 0h0m12 0h0m9 0h0m10 0h0m-60 1h0m4 0h0m2 0h0m1 0h0m5 0h0m3 0h0m1 0h0m1 0h0m1 0h0m1 0h0m2 0h0m2 0h0m1 0h0m4 0h0m3 0h0m7 0h0m10 0h0m8 0h0m13 0h0m7 0h0m-74 1h0m1 0h0m2 0h0m1 0h0m1 0h0m1 0h0m1 0h0m2 0h0m4 0h0m4 0h0m1 0h0m5 0h0m2 0h0m3 0h0m2 0h0m15 0h0m5 0h0m2 0h0m1 0h0m1 0h0m-53 1h0m1 0h0m2 0h0m5 0h0m1 0h0m2 0h0m2 0h0m1 0h0m1 0h0m1 0h0m2 0h0m1 0h0m1 0h0m2 0h0m3 0h0m9 0h0m6 0h0m2 0h0m12 0h0m1 0h0m1 0h0m1 0h0m11 0h0m-71 1h0m3 0h0m3 0h0m2 0h0m2 0h0m3 0h0m2 0h0m2 0h0m2 0h0m2 0h0m1 0h0m3 0h0m2 0h0m1 0h0m2 0h0m2 0h0m11 0h0m1 0h0m1 0h0m5 0h0m5 0h0m-68 1h0m11 0h0m6 0h0m3 0h0m1 0h0m1 0h0m1 0h0m1 0h0m1 0h0m1 0h0m1 0h0m1 0h0m1 0h0m3 0h0m4 0h0m2 0h0m1 0h0m1 0h0m1 0h0m15 0h0m1 0h0m10 0h0m2 0h0m1 0h0m5 0h0m8 0h0m-76 1h0m4 0h0m1 0h0m3 0h0m2 0h0m4 0h0m1 0h0m1 0h0m3 0h0m1 0h0m2 0h0m10 0h0m2 0h0m3 0h0m5 0h0m7 0h0m2 0h0m18 0h0m7 0h0m22 0h0m-89 1h0m2 0h0m11 0h0m5 0h0m1 0h0m4 0h0m1 0h0m1 0h0m17 0h0m1 0h0m1 0h0m3 0h0m5 0h0m5 0h0m5 0h0m2 0h0m2 0h0m4 0h0m6 0h0m12 0h0m-111 1h0m16 0h0m7 0h0m1 0h0m2 0h0m3 0h0m1 0h0m4 0h0m6 0h0m3 0h0m1 0h0m3 0h0m25 0h0m18 0h0m-78 1h0m5 0h0m2 0h0m1 0h0m3 0h0m1 0h0m1 0h0m3 0h0m5 0h0m1 0h0m3 0h0m2 0h0m2 0h0m3 0h0m7 0h0m16 0h0m18 0h0m9 0h0m-81 1h0m2 0h0m1 0h0m2 0h0m1 0h0m1 0h0m1 0h0m1 0h0m1 0h0m1 0h0m3 0h0m1 0h0m1 0h0m1 0h0m5 0h0m4 0h0m3 0h0m1 0h0m4 0h0m5 0h0m9 0h0m4 0h0m4 0h0m3 0h0m3 0h0m6 0h0m9 0h0m18 0h0m-95 1h0m3 0h0m1 0h0m6 0h0m1 0h0m4 0h0m1 0h0m2 0h0m1 0h0m1 0h0m3 0h0m1 0h0m4 0h0m2 0h0m1 0h0m1 0h0m13 0h0m1 0h0m1 0h0m2 0h0m4 0h0m11 0h0m9 0h0m2 0h0m4 0h0m2 0h0m31 0h0m-109 1h0m1 0h0m4 0h0m3 0h0m2 0h0m3 0h0m1 0h0m5 0h0m5 0h0m2 0h0m1 0h0m2 0h0m13 0h0m4 0h0m29 0h0m2 0h0m1 0h0m2 0h0m21 0h0m-100 1h0m1 0h0m3 0h0m7 0h0m1 0h0m1 0h0m1 0h0m5 0h0m1 0h0m3 0h0m3 0h0m18 0h0m7 0h0m1 0h0m3 0h0m13 0h0m3 0h0m2 0h0m6 0h0m-81 1h0m1 0h0m1 0h0m1 0h0m1 0h0m2 0h0m1 0h0m5 0h0m4 0h0m2 0h0m1 0h0m2 0h0m1 0h0m4 0h0m2 0h0m1 0h0m6 0h0m6 0h0m1 0h0m10 0h0m1 0h0m2 0h0m2 0h0m17 0h0m3 0h0m4 0h0m-89 1h0m2 0h0m6 0h0m1 0h0m2 0h0m1 0h0m2 0h0m3 0h0m2 0h0m1 0h0m2 0h0m1 0h0m1 0h0m3 0h0m2 0h0m1 0h0m1 0h0m1 0h0m2 0h0m3 0h0m2 0h0m4 0h0m1 0h0m2 0h0m28 0h0m4 0h0m2 0h0m12 0h0m1 0h0m-82 1h0m1 0h0m2 0h0m1 0h0m2 0h0m2 0h0m2 0h0m1 0h0m1 0h0m1 0h0m1 0h0m1 0h0m1 0h0m1 0h0m1 0h0m1 0h0m14 0h0m4 0h0m6 0h0m5 0h0m3 0h0m7 0h0m1 0h0m5 0h0m6 0h0m2 0h0m4 0h0m1 0h0m8 0h0m-96 1h0m4 0h0m1 0h0m3 0h0m2 0h0m2 0h0m5 0h0m3 0h0m4 0h0m2 0h0m1 0h0m1 0h0m1 0h0m2 0h0m1 0h0m4 0h0m2 0h0m11 0h0m1 0h0m7 0h0m12 0h0m5 0h0m7 0h0m1 0h0m1 0h0m-74 1h0m1 0h0m3 0h0m1 0h0m1 0h0m1 0h0m2 0h0m1 0h0m8 0h0m4 0h0m4 0h0m1 0h0m34 0h0m12 0h0m8 0h0m-89 1h0m1 0h0m1 0h0m1 0h0m1 0h0m1 0h0m1 0h0m3 0h0m3 0h0m8 0h0m1 0h0m1 0h0m3 0h0m1 0h0m3 0h0m2 0h0m6 0h0m8 0h0m2 0h0m1 0h0m1 0h0m5 0h0m7 0h0m14 0h0m16 0h0m-91 1h0m4 0h0m1 0h0m1 0h0m1 0h0m1 0h0m1 0h0m1 0h0m1 0h0m4 0h0m2 0h0m1 0h0m5 0h0m1 0h0m1 0h0m2 0h0m4 0h0m1 0h0m1 0h0m13 0h0m2 0h0m18 0h0m5 0h0m23 0h0m2 0h0m1 0h0m-102 1h0m2 0h0m3 0h0m4 0h0m1 0h0m2 0h0m2 0h0m1 0h0m4 0h0m1 0h0m3 0h0m1 0h0m1 0h0m1 0h0m2 0h0m2 0h0m1 0h0m1 0h0m5 0h0m14 0h0m6 0h0m7 0h0m5 0h0m6 0h0m2 0h0m3 0h0m7 0h0m4 0h0m2 0h0m3 0h0m-90 1h0m5 0h0m1 0h0m1 0h0m3 0h0m2 0h0m2 0h0m1 0h0m1 0h0m1 0h0m2 0h0m2 0h0m1 0h0m3 0h0m1 0h0m2 0h0m1 0h0m2 0h0m18 0h0m22 0h0m9 0h0m8 0h0m2 0h0m-94 1h0m3 0h0m2 0h0m1 0h0m1 0h0m2 0h0m3 0h0m2 0h0m4 0h0m2 0h0m1 0h0m1 0h0m1 0h0m1 0h0m2 0h0m1 0h0m1 0h0m2 0h0m1 0h0m7 0h0m33 0h0m1 0h0m6 0h0m-81 1h0m6 0h0m2 0h0m1 0h0m6 0h0m1 0h0m1 0h0m1 0h0m1 0h0m1 0h0m1 0h0m2 0h0m1 0h0m2 0h0m1 0h0m1 0h0m1 0h0m2 0h0m8 0h0m8 0h0m10 0h0m1 0h0m2 0h0m3 0h0m13 0h0m2 0h0m6 0h0m13 0h0m6 0h0m-103 1h0m1 0h0m5 0h0m1 0h0m1 0h0m2 0h0m1 0h0m1 0h0m1 0h0m2 0h0m1 0h0m1 0h0m1 0h0m3 0h0m1 0h0m1 0h0m2 0h0m1 0h0m2 0h0m1 0h0m1 0h0m6 0h0m2 0h0m1 0h0m13 0h0m5 0h0m8 0h0m3 0h0m3 0h0m9 0h0m4 0h0m20 0h0m-99 1h0m4 0h0m4 0h0m2 0h0m1 0h0m1 0h0m6 0h0m1 0h0m2 0h0m1 0h0m7 0h0m1 0h0m1 0h0m1 0h0m1 0h0m2 0h0m5 0h0m5 0h0m2 0h0m2 0h0m14 0h0m2 0h0m2 0h0m2 0h0m2 0h0m9 0h0m5 0h0m8 0h0m3 0h0m-92 1h0m2 0h0m1 0h0m3 0h0m1 0h0m1 0h0m1 0h0m1 0h0m1 0h0m2 0h0m1 0h0m1 0h0m1 0h0m3 0h0m2 0h0m1 0h0m3 0h0m2 0h0m9 0h0m8 0h0m16 0h0m21 0h0m1 0h0m2 0h0m2 0h0m1 0h0m-94 1h0m3 0h0m3 0h0m1 0h0m1 0h0m1 0h0m3 0h0m4 0h0m1 0h0m1 0h0m1 0h0m1 0h0m1 0h0m1 0h0m2 0h0m2 0h0m2 0h0m2 0h0m4 0h0m1 0h0m13 0h0m2 0h0m12 0h0m9 0h0m2 0h0m6 0h0m-79 1h0m2 0h0m5 0h0m2 0h0m1 0h0m1 0h0m1 0h0m1 0h0m1 0h0m2 0h0m1 0h0m1 0h0m1 0h0m3 0h0m3 0h0m1 0h0m1 0h0m1 0h0m2 0h0m1 0h0m4 0h0m1 0h0m5 0h0m2 0h0m12 0h0m5 0h0m8 0h0m8 0h0m2 0h0m24 0h0m1 0h0m13 0h0m-116 1h0m3 0h0m2 0h0m1 0h0m3 0h0m2 0h0m1 0h0m2 0h0m3 0h0m3 0h0m1 0h0m1 0h0m1 0h0m1 0h0m1 0h0m4 0h0m7 0h0m7 0h0m7 0h0m12 0h0m9 0h0m4 0h0m1 0h0m3 0h0m3 0h0m-85 1h0m3 0h0m5 0h0m3 0h0m2 0h0m1 0h0m1 0h0m3 0h0m1 0h0m1 0h0m1 0h0m1 0h0m1 0h0m2 0h0m2 0h0m3 0h0m1 0h0m2 0h0m4 0h0m2 0h0m9 0h0m3 0h0m2 0h0m6 0h0m3 0h0m5 0h0m4 0h0m1 0h0m5 0h0m5 0h0m11 0h0m6 0h0m4 0h0m11 0h0m-112 1h0m5 0h0m3 0h0m2 0h0m3 0h0m1 0h0m3 0h0m1 0h0m1 0h0m4 0h0m4 0h0m1 0h0m2 0h0m1 0h0m30 0h0m1 0h0m1 0h0m1 0h0m2 0h0m1 0h0m8 0h0m5 0h0m3 0h0m1 0h0m10 0h0m9 0h0m1 0h0m-98 1h0m2 0h0m3 0h0m2 0h0m1 0h0m1 0h0m1 0h0m2 0h0m1 0h0m2 0h0m1 0h0m8 0h0m19 0h0m1 0h0m2 0h0m1 0h0m2 0h0m2 0h0m2 0h0m13 0h0m2 0h0m12 0h0m1 0h0m11 0h0m-100 1h0m3 0h0m3 0h0m1 0h0m1 0h0m1 0h0m1 0h0m1 0h0m2 0h0m2 0h0m1 0h0m2 0h0m1 0h0m1 0h0m1 0h0m1 0h0m5 0h0m1 0h0m3 0h0m1 0h0m6 0h0m17 0h0m1 0h0m1 0h0m3 0h0m24 0h0m-84 1h0m1 0h0m2 0h0m2 0h0m1 0h0m2 0h0m1 0h0m2 0h0m1 0h0m1 0h0m2 0h0m1 0h0m1 0h0m1 0h0m3 0h0m1 0h0m4 0h0m2 0h0m3 0h0m6 0h0m2 0h0m1 0h0m14 0h0m2 0h0m2 0h0m1 0h0m1 0h0m2 0h0m6 0h0m12 0h0m6 0h0m9 0h0m4 0h0m5 0h0m-104 1h0m1 0h0m1 0h0m1 0h0m1 0h0m1 0h0m1 0h0m1 0h0m1 0h0m2 0h0m1 0h0m1 0h0m2 0h0m1 0h0m1 0h0m1 0h0m1 0h0m2 0h0m3 0h0m1 0h0m1 0h0m1 0h0m1 0h0m1 0h0m1 0h0m1 0h0m28 0h0m6 0h0m10 0h0m6 0h0m1 0h0m3 0h0m1 0h0m3 0h0m10 0h0m-99 1h0m1 0h0m1 0h0m1 0h0m1 0h0m1 0h0m2 0h0m2 0h0m1 0h0m1 0h0m1 0h0m2 0h0m1 0h0m2 0h0m1 0h0m1 0h0m1 0h0m1 0h0m1 0h0m2 0h0m1 0h0m3 0h0m1 0h0m1 0h0m3 0h0m3 0h0m5 0h0m15 0h0m19 0h0m7 0h0m21 0h0m4 0h0m7 0h0m-113 1h0m2 0h0m2 0h0m1 0h0m1 0h0m1 0h0m1 0h0m1 0h0m1 0h0m1 0h0m1 0h0m1 0h0m1 0h0m1 0h0m1 0h0m1 0h0m1 0h0m2 0h0m2 0h0m5 0h0m2 0h0m1 0h0m6 0h0m14 0h0m2 0h0m5 0h0m23 0h0m16 0h0m30 0h0m-127 1h0m2 0h0m2 0h0m1 0h0m2 0h0m1 0h0m2 0h0m1 0h0m1 0h0m1 0h0m1 0h0m3 0h0m1 0h0m1 0h0m1 0h0m2 0h0m1 0h0m7 0h0m6 0h0m8 0h0m16 0h0m3 0h0m2 0h0m7 0h0m7 0h0m15 0h0m-94 1h0m1 0h0m1 0h0m1 0h0m1 0h0m2 0h0m2 0h0m2 0h0m3 0h0m2 0h0m7 0h0m1 0h0m1 0h0m2 0h0m1 0h0m5 0h0m7 0h0m13 0h0m6 0h0m4 0h0m7 0h0m3 0h0m7 0h0m1 0h0m2 0h0m1 0h0m2 0h0m2 0h0m2 0h0m1 0h0m16 0h0m-106 1h0m1 0h0m2 0h0m2 0h0m1 0h0m1 0h0m2 0h0m1 0h0m1 0h0m2 0h0m1 0h0m1 0h0m3 0h0m2 0h0m1 0h0m1 0h0m1 0h0m1 0h0m1 0h0m4 0h0m10 0h0m7 0h0m4 0h0m5 0h0m3 0h0m1 0h0m8 0h0m3 0h0m3 0h0m4 0h0m2 0h0m1 0h0m9 0h0m-89 1h0m1 0h0m3 0h0m3 0h0m1 0h0m1 0h0m1 0h0m1 0h0m3 0h0m2 0h0m2 0h0m1 0h0m1 0h0m1 0h0m1 0h0m1 0h0m17 0h0m24 0h0m2 0h0m11 0h0m5 0h0m2 0h0m7 0h0m1 0h0m4 0h0m-96 1h0m2 0h0m1 0h0m2 0h0m2 0h0m1 0h0m1 0h0m2 0h0m3 0h0m1 0h0m2 0h0m3 0h0m1 0h0m1 0h0m1 0h0m1 0h0m2 0h0m14 0h0m17 0h0m4 0h0m9 0h0m11 0h0m1 0h0m-82 1h0m1 0h0m1 0h0m1 0h0m1 0h0m1 0h0m1 0h0m4 0h0m1 0h0m1 0h0m1 0h0m1 0h0m1 0h0m2 0h0m2 0h0m4 0h0m1 0h0m1 0h0m5 0h0m9 0h0m20 0h0m26 0h0m7 0h0m4 0h0m8 0h0m-104 1h0m1 0h0m1 0h0m1 0h0m1 0h0m1 0h0m1 0h0m2 0h0m1 0h0m1 0h0m1 0h0m1 0h0m2 0h0m1 0h0m1 0h0m2 0h0m1 0h0m2 0h0m2 0h0m1 0h0m25 0h0m18 0h0m27 0h0m5 0h0m4 0h0m1 0h0m22 0h0m-126 1h0m1 0h0m1 0h0m1 0h0m1 0h0m1 0h0m3 0h0m1 0h0m1 0h0m1 0h0m1 0h0m2 0h0m1 0h0m1 0h0m2 0h0m2 0h0m7 0h0m37 0h0m3 0h0m3 0h0m1 0h0m7 0h0m11 0h0m6 0h0m5 0h0m1 0h0m-101 1h0m1 0h0m1 0h0m1 0h0m1 0h0m8 0h0m1 0h0m3 0h0m3 0h0m1 0h0m21 0h0m24 0h0m14 0h0m7 0h0m3 0h0m2 0h0m-91 1h0m1 0h0m1 0h0m1 0h0m1 0h0m4 0h0m2 0h0m1 0h0m1 0h0m1 0h0m1 0h0m4 0h0m3 0h0m21 0h0m4 0h0m13 0h0m4 0h0m17 0h0m3 0h0m2 0h0m11 0h0m-96 1h0m1 0h0m1 0h0m1 0h0m1 0h0m2 0h0m2 0h0m2 0h0m2 0h0m1 0h0m1 0h0m2 0h0m1 0h0m2 0h0m4 0h0m30 0h0m8 0h0m4 0h0m2 0h0m9 0h0m9 0h0m12 0h0m-97 1h0m1 0h0m1 0h0m1 0h0m3 0h0m1 0h0m4 0h0m7 0h0m2 0h0m1 0h0m8 0h0m33 0h0m1 0h0m6 0h0m1 0h0m4 0h0m17 0h0m2 0h0m2 0h0m3 0h0m2 0h0m17 0h0m-117 1h0m1 0h0m1 0h0m1 0h0m3 0h0m2 0h0m1 0h0m3 0h0m2 0h0m1 0h0m2 0h0m31 0h0m8 0h0m12 0h0m1 0h0m2 0h0m11 0h0m13 0h0m-95 1h0m1 0h0m5 0h0m1 0h0m1 0h0m1 0h0m1 0h0m3 0h0m1 0h0m4 0h0m2 0h0m42 0h0m6 0h0m12 0h0m4 0h0m-84 1h0m1 0h0m1 0h0m1 0h0m3 0h0m1 0h0m2 0h0m2 0h0m1 0h0m1 0h0m46 0h0m12 0h0m1 0h0m9 0h0m1 0h0m1 0h0m11 0h0m3 0h0m-97 1h0m1 0h0m1 0h0m3 0h0m1 0h0m5 0h0m1 0h0m1 0h0m2 0h0m1 0h0m8 0h0m47 0h0m1 0h0m3 0h0m4 0h0m7 0h0m-86 1h0m1 0h0m1 0h0m1 0h0m1 0h0m3 0h0m3 0h0m1 0h0m54 0h0m5 0h0m1 0h0m2 0h0m4 0h0m-77 1h0m1 0h0m1 0h0m1 0h0m3 0h0m3 0h0m1 0h0m2 0h0m7 0h0m28 0h0m28 0h0m8 0h0m-83 1h0m1 0h0m1 0h0m1 0h0m1 0h0m1 0h0m2 0h0m1 0h0m5 0h0m1 0h0m36 0h0m-50 1h0m2 0h0m1 0h0m1 0h0m5 0h0m1 0h0m14 0h0m11 0h0m-35 1h0m1 0h0m1 0h0m1 0h0m1 0h0m1 0h0m1 0h0m1 0h0m4 0h0m2 0h0m17 0h0m20 0h0m6 0h0m40 0h0m-96 1h0m1 0h0m1 0h0m1 0h0m1 0h0m2 0h0m1 0h0m4 0h0m1 0h0m12 0h0m5 0h0m4 0h0m3 0h0m2 0h0m35 0h0m-73 1h0m1 0h0m1 0h0m1 0h0m2 0h0m1 0h0m4 0h0m1 0h0m-11 1h0m2 0h0m2 0h0m3 0h0m1 0h0m10 0h0m1 0h0m3 0h0m18 0h0m-39 1h0m1 0h0m1 0h0m2 0h0m1 0h0m1 0h0m1 0h0m2 0h0m29 0h0m6 0h0m19 0h0m-64 1h0m1 0h0m1 0h0m1 0h0m2 0h0m2 0h0m3 0h0m1 0h0m1 0h0m72 0h0m-84 1h0m1 0h0m1 0h0m1 0h0m2 0h0m9 0h0m-14 1h0m1 0h0m1 0h0m2 0h0m1 0h0m1 0h0m1 0h0m15 0h0m13 0h0m23 0h0m-58 1h0m1 0h0m1 0h0m1 0h0m1 0h0m5 0h0m5 0h0m42 0h0m-55 1h0m3 0h0m1 0h0m3 0h0m36 0h0m43 0h0m-87 1h0m1 0h0m2 0h0m1 0h0m4 0h0m-8 1h0m2 0h0m1 0h0m1 0h0m1 0h0m2 0h0m15 0h0m-21 1h0m1 0h0m1 0h0m-3 1h0m1 0h0m1 0h0m1 0h0m2 0h0m21 0h0m6 0h0m40 0h0" stroke="#000" stroke-width="2.0" stroke-linecap="square" fill="none"/><path d="M52.5 164V140L55 132L57 140L57 164Z" fill="#000"/><ellipse cx="133" cy="52" rx="20" ry="2.5" fill="#000"/><polygon points="86.8,52.5 88.8,47.3 94,44.9 108.4,43.2 118.7,41.6 139.2,42.2 159.8,43.6 170.1,46.3 178.3,53.5 174.2,57.6 166,65.9 155.7,71 139.2,74.1 118.7,73 104.2,70 94,63.8 87.8,57.6" fill="none" stroke="#000" stroke-width="1.2"/><polygon points="127.5,93 145.5,94.5 154.5,105 160.5,118.5 159.1,135 151.5,145.6 136.5,148.6 124.5,148.6 114.1,145.6 107.2,135 103.5,120 108.1,105 115.5,96" fill="none" stroke="#000" stroke-width="1.2"/><rect x="29.5" y="12.5" width="152" height="152.8" fill="none" stroke="#000" stroke-width="1.4"/><path d="M29.5 165.3v2.8M35.4 165.3v2.8M41.3 165.3v2.8M47.2 165.3v2.8M53.1 165.3v2.8M59 165.3v2.8M64.9 165.3v2.8M70.8 165.3v2.8M76.7 165.3v2.8M82.6 165.3v2.8M88.5 165.3v2.8M94.4 165.3v2.8M100.3 165.3v2.8M106.2 165.3v2.8M112.1 165.3v2.8M118 165.3v2.8M123.9 165.3v2.8M129.8 165.3v2.8M135.7 165.3v2.8M141.6 165.3v2.8M147.5 165.3v2.8M153.4 165.3v2.8M159.3 165.3v2.8M165.2 165.3v2.8M171.1 165.3v2.8M177 165.3v2.8M29.5 165h-2.8M29.5 159h-2.8M29.5 153h-2.8M29.5 147h-2.8M29.5 141h-2.8M29.5 135h-2.8M29.5 129h-2.8M29.5 123h-2.8M29.5 117h-2.8M29.5 111h-2.8M29.5 105h-2.8M29.5 99h-2.8M29.5 93h-2.8M29.5 87h-2.8M29.5 81h-2.8M29.5 75h-2.8M29.5 69h-2.8M29.5 63h-2.8M29.5 57h-2.8M29.5 51h-2.8M29.5 45h-2.8M29.5 39h-2.8M29.5 33h-2.8M29.5 27h-2.8M29.5 21h-2.8M29.5 15h-2.8" stroke="#000" stroke-width="1.2"/><g font-family='"Liberation Mono", monospace' font-weight="bold" font-size="10.8" fill="#000"><text x="29.5" y="179.8" text-anchor="middle">0</text><text x="59" y="179.8" text-anchor="middle">200</text><text x="88.5" y="179.8" text-anchor="middle">400</text><text x="118" y="179.8" text-anchor="middle">600</text><text x="147.5" y="179.8" text-anchor="middle">800</text><text x="177" y="179.8" text-anchor="middle">1000</text><text transform="translate(24.2 165) rotate(-90)" text-anchor="middle">0</text><text transform="translate(24.2 135) rotate(-90)" text-anchor="middle">200</text><text transform="translate(24.2 105) rotate(-90)" text-anchor="middle">400</text><text transform="translate(24.2 75) rotate(-90)" text-anchor="middle">600</text><text transform="translate(24.2 45) rotate(-90)" text-anchor="middle">800</text><text transform="translate(24.2 15) rotate(-90)" text-anchor="middle">1000</text></g><text x="35.8" y="190.9" font-family='"Liberation Mono", monospace' font-size="11.2" stroke="#000" stroke-width="0.35" textLength="140" lengthAdjust="spacingAndGlyphs">FSC-H\FSC-Height ---&gt;</text><text transform="translate(11.6 162) rotate(-90)" font-family='"Liberation Mono", monospace' font-size="11.2" stroke="#000" stroke-width="0.35" textLength="146" lengthAdjust="spacingAndGlyphs">SSC-H\SSC-Height ---&gt;</text><text x="34.6" y="28.3" font-family='"Liberation Mono", monospace' font-size="11.8" stroke="#000" stroke-width="0.35" textLength="83.4" lengthAdjust="spacingAndGlyphs">UT-7/fus HIV</text><text x="163" y="38.6" font-family='"Liberation Mono", monospace' font-size="11.8" stroke="#000" stroke-width="0.35">R2</text><text x="156.7" y="161" font-family='"Liberation Mono", monospace' font-size="11.8" stroke="#000" stroke-width="0.35">R1</text></g><path d="M60 391.5L60 391.5L61.2 391.5L62.4 391.5L63.6 391.5L64.8 391.5L66 391.5L67.2 391.5L68.4 391.5L69.6 391.5L70.8 391.5L72 391.5L73.2 391.5L74.4 391.5L75.6 391.5L76.8 391.5L78 391.5L79.2 391.5L80.4 391.5L81.6 391.5L82.8 391.5L84 391.5L85.2 391.5L86.4 391.5L87.6 391.5L88.8 391.5L90 391.5L91.2 391.5L92.4 391.5L93.6 391.5L94.8 391.5L96 391.5L97.2 391.5L98.4 391.5L99.6 391.5L100.8 391.5L102 391.5L103.2 391.5L104.4 391.5L105.6 391.5L106.8 391.5L108 391.5L109.2 391.5L110.4 391.5L111.6 391.5L112.8 391.5L114 391.5L115.2 391.5L116.4 391.5L117.6 391.5L118.8 391.5L120 391.5L121.2 391.5L122.4 391.5L123.6 391.5L124.8 391.5L126 391.5L127.2 391.5L128.4 391.5L129.6 391.5L130 391.5L130.8 391.4L132 391.3L133.2 391.3L134.4 391.2L135.6 391.1L136.6 391L136.8 390.8L138 389.1L139.2 388.7L140.4 387.9L141.6 387.6L142 388L142.8 386.3L144 385.7L145.2 382.3L146 385L146.4 382L147.6 381.4L148.8 376L150 379.9L151.2 379L152.3 375.7L152.4 380.1L153.6 378.6L154.8 381.9L155 381L156 374.3L157.2 367.7L157.5 363.5L158.4 364.1L158.5 365L159.6 363.6L160.8 360.3L162 359.4L163.2 361.1L164.4 348.9L165.5 353L165.6 355.2L166.8 350.9L168 348.2L169.2 344.7L170.4 345.1L170.7 344L171.6 342.4L172.8 340.1L174 334.6L175 335.6L175.2 336.9L176.4 335.2L177.6 328.3L178.8 323.2L180 327.9L181 323.4L181.2 331.5L182.4 322.8L183.6 324.3L184.8 320.7L185.5 318L186 321.8L187.2 313.8L188 320L188.4 335.6L189.6 326.4L190.8 338.8L191.6 342.6L192 342.7L193.2 324.6L194.4 321.1L195 320L195.6 319.7L196.8 320.7L197.7 314.7L198 310.7L199.2 326.2L200.4 319.4L201 325L201.6 329.1L202.8 331.2L204 341.5L205.2 343.7L205.5 342.6L206.4 340.6L207.6 334L208.8 336.1L210 339.5L210.7 330.4L211.2 325.2L212.3 329.2L212.4 328.5L213.6 330.4L214.6 338.5L214.8 343.6L216 343.7L217.2 353.2L217.7 352.3L218.4 356.6L219.6 360.2L220.8 365.1L221.5 366L222 366.6L223 359L223.2 362.5L224.4 362.5L225.6 366.4L226.8 365L227 361.5L228 361.7L229.2 365L230.4 362.2L231.6 365.8L232.8 371.5L233 364.6L234 362.7L235.2 358.3L236 357.7L236.4 360.6L237.6 366.3L238.5 375.4L238.8 374.9L240 370.3L241.2 370.2L241.5 368.5L242.4 368.9L243.6 367.4L244.8 370.6L246 374.2L247 375.4L247.2 377.5L248.4 374.9L249.6 372.8L250.8 370.8L250.8 371L252 371.8L253.2 375L254.4 378.7L255.6 376.5L256 380L256.8 382.3L258 380.6L259.2 381.2L260.4 378.2L260.8 381.5L261.6 380.5L262.8 381L264 375.3L265.2 375.8L266 373.8L266.4 372.9L267.6 372.6L268.8 377.2L270 376L271.2 375.2L271.5 377L272.4 376.8L273.6 375.5L274.8 380.1L276 380L276 381.2L277.2 379.4L278.4 378.2L279.6 377.5L280.8 376.6L282 378.1L283.2 376.1L284.4 374.4L285.4 375.4L285.6 377.1L286.8 374.9L288 380.4L289.2 379.6L290.4 379.6L291.6 377.7L292 380.3L292.8 377.8L294 381L295.2 379.3L295.4 378.5L296.4 380.1L297.6 379L298.8 382.5L300 379.7L301.2 384.6L302.3 381L302.4 379.7L303.6 381.8L304.8 382.7L306 381.1L307.2 382.6L307.5 380.3L308.4 382.6L309.6 381.9L310.8 378.8L312 376.9L312.7 376.8L313.2 378.3L314.4 380L315.6 383.4L316.8 385.5L317.9 388L318 390.3L319.2 388.2L320.4 386.3L321.6 385L322.8 383.5L323 383.7L324 382.8L325.2 382.6L326.4 383.2L327.6 384L328.8 385.7L330 385.5L330 386.6L331.2 387.3L332.4 384.3L333.6 388.8L334.8 385.6L336 383.6L337 386.3L337.2 386L338.4 388.1L339.6 390.1L340.8 389.4L342 389L342 387.2L343.2 387.4L344.4 386.9L345.6 384.5L346.8 382.3L348 382.9L349 382.9L349.2 384.3L350.4 382.2L351.6 385.6L352.8 387.3L354 387.2L354 387.8L355.2 384.7L356.4 384.8L357.6 379.1L358.8 380.7L359.4 379.4L360 378.9L361.2 381L362.4 379.4L363.6 381.3L364.6 381L364.8 378.3L366 378.2L367.2 378.8L368.4 374L369.6 377L369.8 376L370.8 376.4L372 372.7L373.2 370L373.2 369.4L374.4 376.3L375.5 377.4L375.6 376.7L376.8 375.1L378 373L379.2 373.1L380 372.9L380.4 373.3L381.6 374.1L382.8 376.7L384 376.3L384.6 376.5L385.2 376.6L386.4 376.6L387.6 373.2L388.3 374.7L388.8 376.2L390 373L391.2 376.6L392.4 376.8L393.6 377.7L393.8 377.4L394.8 377.9L396 378.7L397.2 377.7L398.3 375.6L398.4 374.8L399.6 380.3L400.8 382.2L401 382L402 380.7L403.2 378.5L404.4 372.5L404.7 377.4L405.6 379.5L406.8 379.3L408 380.9L409.2 381.9L409.3 383.8L410.4 382.3L411.6 381.8L412.8 377L413.9 377.4L414 375.4L415.2 382.6L416.4 382.6L417.5 387.5L417.6 386.8L418.8 388.9L420 386.5L421.2 383.6L422.4 385.6L423 385.6L423.6 382.7L424.8 385.4L426 384.1L427.2 385L428.4 380.3L428.5 382L429.6 380.9L430.8 384.2L432 384.5L433 387.5L433.2 386.3L434.4 386.8L435.6 387.5L436.8 383.7L437.6 383L438 383.1L439.2 382.6L440.4 386.7L441.6 386.6L442.8 386.9L443 386.6L444 385.1L445.2 386.7L446.4 387.9L447.6 390.7L448.6 388.4L448.8 389.3L450 383.5L451.2 383.8L452.3 381L452.4 382.6L453.6 381.6L454.8 380.6L456 380L456 378.1L457.2 382.6L458.4 375L459.6 377.4L459.6 376.1L460.8 382.8L461.4 383.8L462 391.5L462 391.6" fill="none" stroke="#1a1a1a" stroke-width="0.8"/><path d="M60 391.5L60 391.5L61.6 391.4L63.1 391.3L64.7 391.2L66.3 391.1L67.8 391L68 391L69.4 389.2L70 389.5L71 390L72 391.5L72.6 391.5L74.1 391.5L75.7 391.5L77.3 391.5L78.8 391.5L80.4 391.5L82 391.5L83.6 391.5L85.1 391.5L86.7 391.5L88 391.5L88.3 391.3L89.8 389.4L91.4 389.5L92 389L93 388.6L94.5 389.3L96.1 389.3L97 389.5L97.7 390L99.2 386.7L100.8 388.5L101 388L102.4 389L104 391.3L104 390L105.5 388.3L107.1 389.6L108.7 388.9L108.7 389.6L110.2 381.2L110.5 379L111.8 377L113.4 377L114 377.4L115 373.9L116.5 367L116.5 366.8L118.1 372.9L118.3 374L119.7 368.5L121.2 361.1L122.6 356.5L122.8 356.2L124.4 339.8L124.4 340.8L125.9 350.6L127.5 357L127.9 358L128.7 332L129.1 330.3L130.7 327.3L132.2 321.7L132.2 320.3L133.8 320.2L134.8 320L135.4 321.5L136.9 315.3L138 312L138.5 306.8L140.1 309.4L141 304.2L141.6 291.5L141.8 288.5L143.2 264.2L143.6 264L144.8 260.9L145.3 260.7L146.4 271.9L147.9 280.4L148 276L149.5 263.1L150.5 252.8L151.1 259.1L152.6 282.5L153 281.6L154.2 279L155.8 270.7L156.6 266L157.3 275.4L158.5 285L158.9 288.4L160.5 291L161 297L162 313L162.1 314L163.6 297L164.6 288.6L165.2 292.9L166.8 300.8L167.2 306L168.3 304.3L169.9 304.9L170.7 307.7L171.5 310.6L173 322.5L173.3 323.4L174.6 331L176.2 334.1L176.8 337.3L177.8 342.7L179.3 348.7L180.9 351.5L181 353L182.5 341.5L183.7 337.3L184 339.8L185.6 355.5L186.4 358L187.2 360.3L188.7 361.3L190.3 363.9L191.9 365L193.3 367L193.5 366.9L195 361.6L196.6 357.1L197.7 356.5L198.2 360.8L199.7 370.6L200.3 372L201.3 371.1L202.9 372.7L204.4 373.9L206 376.2L207.3 375.7L207.6 375.2L209.2 377.8L210.7 378.5L212.3 380L213.9 382L214.2 382.6L215.4 383.8L217 382.3L217.7 383.8L218.6 385L220.1 386.4L221.7 386L223.3 386.5L224.9 386.4L225.4 387.7L226.4 387.3L228 388.2L229.6 389L231.1 388.5L232.7 389.5L234.3 389.2L234.6 390L235.8 389.5L237.4 391.5L239 391.6L240.6 390.9L242.1 390.2L243.7 389.4L245 389L245.3 389.3L246.8 389L248.4 389.5L250 388.6L251.5 389.5L253.1 390.8L254.7 390.5L255 390.5L256.2 391.4L257.8 391.4L259.4 389.5L261 389.7L262.5 390.3L264.1 390L265 389.5L265.7 388.9L267.2 391.6L268.8 390.5L270.4 389.1L272 391.6L273.5 390.7L275.1 390.7L276.7 390.2L278.2 391.6L279.8 389.8L280 390.5L281.4 390.4L282.9 390.6L284.5 390.7L286.1 390.7L287.7 390.8L289.2 390.8L290.8 390.9L292.4 390.9L293.9 391L295.5 391L297.1 391.1L298.6 391.2L300 391.2L300.2 391.2L301.8 391.2L303.4 391.2L304.9 391.2L306.5 391.3L308.1 391.3L309.6 391.3L311.2 391.3L312.8 391.3L314.3 391.3L315.9 391.3L317.5 391.4L319.1 391.4L320.6 391.4L322.2 391.4L323.8 391.4L325.3 391.4L326.9 391.5L328.5 391.5L330 391.5L330 391.5L331.6 391.5L333.2 391.5L334.8 391.5L336.3 391.5L337.9 391.5L339.5 391.5L341 391.5L342.6 391.5L344.2 391.5L345.7 391.5L347.3 391.5L348.9 391.5L350.5 391.5L352 391.5L353.6 391.5L355.2 391.5L356.7 391.5L358.3 391.5L359.9 391.5L361.4 391.5L363 391.5L364.6 391.5L366.2 391.5L367.7 391.5L369.3 391.5L370.9 391.5L372.4 391.5L374 391.5L375.6 391.5L377.1 391.5L378.7 391.5L380.3 391.5L381.9 391.5L383.4 391.5L385 391.5L386.6 391.5L388.1 391.5L389.7 391.5L391.3 391.5L392.8 391.5L394.4 391.5L396 391.5L397.6 391.5L399.1 391.5L400.7 391.5L402.3 391.5L403.8 391.5L405.4 391.5L407 391.5L408.5 391.5L410.1 391.5L411.7 391.5L413.3 391.5L414.8 391.5L416.4 391.5L418 391.5L419.5 391.5L421.1 391.5L422.7 391.5L424.2 391.5L425.8 391.5L427.4 391.5L429 391.5L430.5 391.5L432.1 391.5L433.7 391.5L435.2 391.5L436.8 391.5L438.4 391.5L439.9 391.5L441.5 391.5L443.1 391.5L444.7 391.5L446.2 391.5L447.8 391.5L449.4 391.5L450.9 391.5L452.5 391.5L454.1 391.5L455.6 391.5L457.2 391.5L458.8 391.5L460.4 391.5L461.9 391.5L462 391.5L462 391.6" fill="none" stroke="#000" stroke-width="1.6"/><path d="M56 223.6H60.3V391.6H462.3" fill="none" stroke="#000" stroke-width="1.4"/><path d="M60 374.8h-3.2M60 358h-3.2M60 341.2h-3.2M60 324.4h-3.2M60 307.6h-6M60 290.8h-3.2M60 274h-3.2M60 257.2h-3.2M60 240.4h-3.2M90.3 391.6v2.8M108 391.6v2.8M120.5 391.6v2.8M130.2 391.6v2.8M138.2 391.6v2.8M144.9 391.6v2.8M150.8 391.6v2.8M155.9 391.6v2.8M190.8 391.6v2.8M208.5 391.6v2.8M221 391.6v2.8M230.7 391.6v2.8M238.7 391.6v2.8M245.4 391.6v2.8M251.3 391.6v2.8M256.4 391.6v2.8M291.3 391.6v2.8M309 391.6v2.8M321.5 391.6v2.8M331.2 391.6v2.8M339.2 391.6v2.8M345.9 391.6v2.8M351.8 391.6v2.8M356.9 391.6v2.8M391.8 391.6v2.8M409.5 391.6v2.8M422 391.6v2.8M431.7 391.6v2.8M439.7 391.6v2.8M446.4 391.6v2.8M452.3 391.6v2.8M457.4 391.6v2.8M60 391.6v4.5M160.5 391.6v4.5M261 391.6v4.5M361.5 391.6v4.5M462 391.6v4.5" stroke="#000" stroke-width="1.25"/><g font-family='"Liberation Mono", monospace' font-size="10.5" fill="#000" stroke="#000" stroke-width="0.25"><text transform="translate(53 226.1) rotate(-90)" text-anchor="middle">150</text><text transform="translate(53 391.6) rotate(-90)" text-anchor="middle">0</text><text x="51.6" y="404.5" font-size="11.5" textLength="10.8" lengthAdjust="spacingAndGlyphs">10</text><text x="64.3" y="400.5" font-size="7.6">0</text><text x="152.1" y="404.5" font-size="11.5" textLength="10.8" lengthAdjust="spacingAndGlyphs">10</text><text x="164.8" y="400.5" font-size="7.6">1</text><text x="252.6" y="404.5" font-size="11.5" textLength="10.8" lengthAdjust="spacingAndGlyphs">10</text><text x="265.3" y="400.5" font-size="7.6">2</text><text x="353.1" y="404.5" font-size="11.5" textLength="10.8" lengthAdjust="spacingAndGlyphs">10</text><text x="365.8" y="400.5" font-size="7.6">3</text><text x="453.6" y="404.5" font-size="11.5" textLength="10.8" lengthAdjust="spacingAndGlyphs">10</text><text x="466.3" y="400.5" font-size="7.6">4</text></g><text x="72" y="232.8" font-family='"Liberation Sans", sans-serif' font-weight="bold" font-size="17.8" textLength="62.3" lengthAdjust="spacingAndGlyphs">CD41a</text><text x="82.8" y="291.3" font-family='"Liberation Mono", monospace' font-size="11.6" stroke="#000" stroke-width="0.3" textLength="53" lengthAdjust="spacingAndGlyphs">UT-7/fus</text><text x="223" y="347.1" font-family='"Liberation Mono", monospace' font-size="11.6" stroke="#000" stroke-width="0.3" textLength="80.8" lengthAdjust="spacingAndGlyphs">UT-7/fus HIV</text><path d="M60 602L60 602L61.2 601.9L62.4 601.8L63.6 601.6L64.8 601.5L66 601.4L67.2 602.3L68.4 601.6L69.6 601.3L70 601L70.8 600.1L72 601.5L73.2 602.2L74.4 601.5L75.6 598L76.8 599.4L78 601.4L79.2 600.5L80 600L80.4 602.3L81.6 600L82.8 601.5L83 599L84 598.5L85.2 597.4L86.4 597.9L87.6 596.6L88.8 596.2L90 599.5L91.2 596.8L92.4 598L93.6 596.2L94.6 596L94.8 596.4L96 594.5L97.2 594.3L98.4 594.7L99.6 596.2L100.8 595L102 595.6L103.2 593.1L104 594L104.4 591.9L105.6 588.7L106.8 581.4L107 582.7L108 585.4L109.2 587.1L110 589.4L110.4 590.8L111.6 586.7L112.8 584L112.9 582.7L114 583.4L115.2 588.8L116.4 582.5L117.6 584L117.7 584.6L118.8 582.5L120 582.2L121.2 577.3L122.4 574.1L123.5 573L123.6 568.8L124.8 569.6L126 562.3L126.3 565.4L127.2 568L128.3 577L128.4 579.4L129.6 573L130.8 568.3L132 561.5L132 563.6L133.2 560.3L134.4 559.2L135.6 562.4L136.8 561.1L137 555.8L138 557.2L139.2 550.9L139.8 549L140.4 552.3L141.6 556.8L141.7 557.7L142.8 550.4L143.7 537.5L144 536L144.6 526L145.2 535.2L146.4 539.4L146.5 540.4L147.6 535.2L148.8 543.8L149.4 546L150 534.4L151.2 539.5L152.3 532.7L152.4 539.9L153.6 525.8L154.8 527.9L155.2 528.8L156 539.7L157.2 549.9L157.3 545.4L158.4 551.8L159.6 551.5L160.4 551.5L160.8 546.9L162 539.2L162 536.7L163.2 543.1L164.4 551.8L165.6 557.1L166.5 556L166.8 556.1L168 545.5L169.2 543.7L169.6 547L170.4 546.7L171.6 550L172.8 552.7L174 561.1L175 557.7L175.2 562.5L176.4 562.1L177.6 561.8L178.8 560.1L179.6 563.8L180 564.5L181.2 555.9L182.4 549.2L183.6 546.9L184.2 543.8L184.8 548.9L186 558.7L186.5 563.8L187.2 559.2L188.4 562.4L189.6 563.1L190.4 557.7L190.8 556.8L192 567.4L192.7 571.5L193.2 562L194.4 553.2L195 548.5L195.6 559.3L196.5 574.6L196.8 572.8L198 568.7L199.2 569.5L200.4 568.3L201 562.3L201.6 569.4L202.8 564.2L204 573.2L204.2 570L205.2 568.5L206.4 574.7L207.6 569.5L208.8 570L208.8 571.3L210 566.3L211.2 567L212.4 568.3L213.5 567.7L213.6 563.8L214.8 569L216 568.3L217.2 572.3L218 570L218.4 572.5L219.6 574.7L220.8 578.5L222 580.8L222 580.3L223.2 573.9L224.2 570L224.4 573.6L225.6 572.1L226.8 575.8L227.3 576L228 578.8L229.2 576.8L230.4 573.7L231.6 576.7L232 575.4L232.8 577.7L234 580.7L235.2 576.9L235.8 583L236.4 579.7L237.6 586.6L238.8 586.4L239.6 587L240 589.7L241.2 584.8L242.4 581.3L243.6 583.6L244.4 581L244.8 579.7L246 586.4L247.2 583.3L248.4 582.3L249.2 585L249.6 581.1L250.8 587.1L252 585.8L253.2 588.7L254.4 587.2L255 588.8L255.6 589.2L256.8 587.4L258 589.6L258.8 592.7L259.2 592.2L260.4 591.6L261.6 589.9L262.8 590.6L264 584.1L265.2 585.2L266.4 582.8L266.5 583L267.6 587.6L268.8 585.9L270 587.6L271.2 587L272.3 590.8L272.4 593.3L273.6 586.2L274.8 585.6L276 579.2L276 579.3L277.2 581.4L278.4 583.4L279.6 586.5L280.8 592.9L282 592.7L282 593.8L283.2 593.8L284.4 594.4L285.6 592.3L286.8 592.5L288 591L289.2 588.6L290.4 593L291.6 592.5L292.8 593L293.5 592.7L294 592.4L295.2 590.9L296.4 593.1L297.6 593.7L298.8 591.4L300 591L301 592.7L301.2 590.9L302.4 596.4L303.6 591.8L304.8 593.7L306 596.9L307.2 599.2L308.4 597.2L308.8 598.5L309.6 599.4L310.8 596.8L312 599.4L313.2 599.1L314.4 600.1L314.6 600.4L315.6 601.5L316.8 601.5L318 602.3L319.2 601.3L320 601.5L320.4 601.5L321.6 601.5L322.8 601.6L324 601.6L325.2 601.6L326.4 601.7L327.6 601.7L328.8 601.7L330 601.7L331.2 601.8L332.4 601.8L333.6 601.8L334.8 601.9L336 601.9L337.2 601.9L338.4 602L339.6 602L340 602L340.8 602L342 602L343.2 602L344.4 602L345.6 602L346.8 602L348 602L349.2 602L350.4 602L351.6 602L352.8 602L354 602L355.2 602L356.4 602L357.6 602L358.8 602L360 602L361.2 602L362.4 602L363.6 602L364.8 602L366 602L367.2 602L368.4 602L369.6 602L370.8 602L372 602L373.2 602L374.4 602L375.6 602L376.8 602L378 602L379.2 602L380.4 602L381.6 602L382.8 602L384 602L385.2 602L386.4 602L387.6 602L388.8 602L390 602L391.2 602L392.4 602L393.6 602L394.8 602L396 602L397.2 602L398.4 602L399.6 602L400.8 602L402 602L403.2 602L404.4 602L405.6 602L406.8 602L408 602L409.2 602L410.4 602L411.6 602L412.8 602L414 602L415.2 602L416.4 602L417.6 602L418.8 602L420 602L421.2 602L422.4 602L423.6 602L424.8 602L426 602L427.2 602L428.4 602L429.6 602L430.8 602L432 602L433.2 602L434.4 602L435.6 602L436.8 602L438 602L439.2 602L440.4 602L441.6 602L442.8 602L444 602L445.2 602L446.4 602L447.6 602L448.8 602L450 602L451.2 602L452.4 602L453.6 602L454.8 602L456 602L457.2 602L458.4 602L459.6 602L460.8 602L462 602L462 602.3" fill="none" stroke="#1a1a1a" stroke-width="0.8"/><path d="M60 602L60 602L61.6 601.9L63.1 601.9L64.7 601.8L66.3 601.8L67.8 601.7L69.4 601.7L71 601.6L72.6 601.6L74.1 601.5L75 601.5L75.7 601.5L77.3 601.6L78.8 601.6L80.4 601.7L82 601.7L83.6 601.8L85.1 601.9L86.7 601.9L88.3 601.9L89.8 602L90 602L91.4 601.7L93 601.4L94.5 601.5L96.1 600L97.7 600.6L99.2 600.5L100.8 601.6L102.4 598.5L104 599.8L105.5 600.1L106 599L107.1 599.3L108.7 597.6L110.2 596.5L111.8 594.8L112 596L113.4 593.8L115 595.4L116.5 594.5L118.1 594.2L119.6 594L119.7 593.4L121.2 595L122.8 593.2L124.4 594.7L125 595L125.9 592.7L127.5 594.2L129.1 596.9L130.7 596.8L131 596L132.2 592.9L133.8 590.7L134 588.5L135.4 587.6L136.9 585.7L137 585.6L138.5 585.3L140.1 581.7L140.8 582.7L141.6 582.9L143.2 580.1L144.6 577L144.8 579.8L146.4 579.9L147.9 580.9L148.5 580.8L149.5 576.5L151.1 574L152.3 571L152.6 570.1L154.2 573.6L155 572.3L155.8 573.2L157.3 573.1L158 569L158.9 570.9L160.5 569.8L161 570.8L162.1 572.6L163.6 573.4L165.2 573.6L165.8 573L166.8 563.4L168.3 549.2L168.8 545.4L169.9 546.1L171.5 551.2L173 547.2L173.5 554.6L174.6 557.1L176.2 555.1L177.8 557.4L178 556L179.3 552.2L180.9 550.9L182 548.5L182.5 549.5L184 549.7L185.6 553.6L185.8 556L187.2 552.6L188.7 556.1L190.3 551L190.4 551.5L191.9 546.1L193.5 542.4L195 539.2L195 540L196.6 544.5L198 543.8L198.2 545.4L199.7 544.2L201 543.8L201.3 543.7L202.9 541.6L204.4 545.9L205.8 545.4L206 542.5L207.6 535.8L208 535.4L209.2 545.3L209.6 551.5L210.7 543.7L212 540.8L212.3 540.9L213.9 532L215.4 528.5L215.8 525.4L217 536.4L218 545.4L218.6 539.5L219.6 533L220.1 533.7L221.7 539.7L222.7 543.8L223.3 541.1L224.2 534.6L224.9 538.3L226.4 549.6L226.5 551.5L228 543L228.8 537.7L229.6 540.6L230 540.8L231.1 548.1L232.7 552.1L232.9 550.4L234.3 554.8L235.8 562L235.8 562.9L237.4 563L238.7 567.7L239 569L240.6 566.9L242.1 560.5L242.5 563L243.7 565.1L245.3 575.2L245.4 573.5L246.8 569L248.4 574.4L249.2 571.5L250 575.6L251.5 580.3L253 583L253.1 585.1L254.7 581.4L256.2 579.5L257.8 577.1L257.9 577.3L259.4 574.6L261 573.3L261.7 571.5L262.5 579.9L263.6 590.8L264.1 588.7L265.7 588.4L267.2 585.1L267.5 583L268.8 585.9L270.4 586.9L271.3 588.8L272 587.9L273.5 580.4L275.1 577.1L275.2 577.3L276.7 581.7L278.2 584.8L279.8 590.8L280 590.8L281.4 591.9L282.9 591.2L284.5 592.7L286.1 591.8L287.7 592.4L287.7 592.7L289.2 593L290.8 592.7L292.4 590.4L293.9 590.7L295.5 591.7L296.3 591.7L297.1 592.1L298.6 591.2L300.2 591.6L301.8 591.1L303.4 591.8L304 592.7L304.9 593.7L306.5 594.9L308.1 598.3L308.8 598.5L309.6 598.4L311.2 597.9L312.8 599.8L314.3 599.1L315.9 601.9L316.5 600.4L317.5 602.3L319.1 600.3L320.6 601.5L322.2 600.4L323.8 602.3L325.3 601.4L326 601.5L326.9 601.6L328.5 601.6L330 601.7L331.6 601.7L333.2 601.7L334.8 601.8L336.3 601.9L337.9 601.9L339.5 602L340 602L341 602L342.6 602L344.2 602L345.7 602L347.3 602L348.9 602L350.5 602L352 602L353.6 602L355.2 602L356.7 602L358.3 602L359.9 602L361.4 602L363 602L364.6 602L366.2 602L367.7 602L369.3 602L370.9 602L372.4 602L374 602L375.6 602L377.1 602L378.7 602L380.3 602L381.9 602L383.4 602L385 602L386.6 602L388.1 602L389.7 602L391.3 602L392.8 602L394.4 602L396 602L397.6 602L399.1 602L400.7 602L402.3 602L403.8 602L405.4 602L407 602L408.5 602L410.1 602L411.7 602L413.3 602L414.8 602L416.4 602L418 602L419.5 602L421.1 602L422.7 602L424.2 602L425.8 602L427.4 602L429 602L430.5 602L432.1 602L433.7 602L435.2 602L436.8 602L438.4 602L439.9 602L441.5 602L443.1 602L444.7 602L446.2 602L447.8 602L449.4 602L450.9 602L452.5 602L454.1 602L455.6 602L457.2 602L458.8 602L460.4 602L461.9 602L462 602L462 602.3" fill="none" stroke="#000" stroke-width="1.6"/><path d="M56 435.4H60.3V602.3H462.3" fill="none" stroke="#000" stroke-width="1.4"/><path d="M60 585.6h-3.2M60 568.9h-3.2M60 552.2h-3.2M60 535.5h-3.2M60 518.8h-6M60 502.2h-3.2M60 485.5h-3.2M60 468.8h-3.2M60 452.1h-3.2M90.3 602.3v2.8M108 602.3v2.8M120.5 602.3v2.8M130.2 602.3v2.8M138.2 602.3v2.8M144.9 602.3v2.8M150.8 602.3v2.8M155.9 602.3v2.8M190.8 602.3v2.8M208.5 602.3v2.8M221 602.3v2.8M230.7 602.3v2.8M238.7 602.3v2.8M245.4 602.3v2.8M251.3 602.3v2.8M256.4 602.3v2.8M291.3 602.3v2.8M309 602.3v2.8M321.5 602.3v2.8M331.2 602.3v2.8M339.2 602.3v2.8M345.9 602.3v2.8M351.8 602.3v2.8M356.9 602.3v2.8M391.8 602.3v2.8M409.5 602.3v2.8M422 602.3v2.8M431.7 602.3v2.8M439.7 602.3v2.8M446.4 602.3v2.8M452.3 602.3v2.8M457.4 602.3v2.8M60 602.3v4.5M160.5 602.3v4.5M261 602.3v4.5M361.5 602.3v4.5M462 602.3v4.5" stroke="#000" stroke-width="1.25"/><g font-family='"Liberation Mono", monospace' font-size="10.5" fill="#000" stroke="#000" stroke-width="0.25"><text transform="translate(53 437.9) rotate(-90)" text-anchor="middle">150</text><text transform="translate(53 602.3) rotate(-90)" text-anchor="middle">0</text><text x="51.6" y="615.2" font-size="11.5" textLength="10.8" lengthAdjust="spacingAndGlyphs">10</text><text x="64.3" y="611.2" font-size="7.6">0</text><text x="152.1" y="615.2" font-size="11.5" textLength="10.8" lengthAdjust="spacingAndGlyphs">10</text><text x="164.8" y="611.2" font-size="7.6">1</text><text x="252.6" y="615.2" font-size="11.5" textLength="10.8" lengthAdjust="spacingAndGlyphs">10</text><text x="265.3" y="611.2" font-size="7.6">2</text><text x="353.1" y="615.2" font-size="11.5" textLength="10.8" lengthAdjust="spacingAndGlyphs">10</text><text x="365.8" y="611.2" font-size="7.6">3</text><text x="453.6" y="615.2" font-size="11.5" textLength="10.8" lengthAdjust="spacingAndGlyphs">10</text><text x="466.3" y="611.2" font-size="7.6">4</text></g><text x="75" y="451.6" font-family='"Liberation Sans", sans-serif' font-weight="bold" font-size="17.8" textLength="49.2" lengthAdjust="spacingAndGlyphs">Gly-A</text><text x="63.8" y="522.2" font-family='"Liberation Mono", monospace' font-size="11.6" stroke="#000" stroke-width="0.3" textLength="80.8" lengthAdjust="spacingAndGlyphs">UT-7/fus HIV</text><text x="240" y="546.1" font-family='"Liberation Mono", monospace' font-size="11.6" stroke="#000" stroke-width="0.3" textLength="53" lengthAdjust="spacingAndGlyphs">UT-7/fus</text><path d="M60 816.5L60 816.5L61.2 816.5L62.4 816.5L63.6 816.5L64.8 816.5L66 816.5L67.2 816.5L68.4 816.5L69.6 816.4L70.8 816.4L72 816.4L73.2 816.4L74.4 816.4L75.6 816.4L76.8 816.4L78 816.4L79.2 816.4L80.4 816.4L81.6 816.4L82.8 816.4L84 816.4L85.2 816.4L86.4 816.4L87.6 816.4L88.8 816.3L90 816.3L91.2 816.3L92.4 816.3L93.6 816.3L94.8 816.3L96 816.3L97.2 816.3L98.4 816.3L99.6 816.3L100.8 816.3L102 816.3L103.2 816.2L104.4 816.3L105.6 816.3L106.8 816.2L108 816.3L109.2 816.3L110.4 816.2L111.6 816.2L112.8 816.2L114 816.2L115.2 816.2L116.4 816.2L117.6 816.2L118.8 816.2L120 816.2L121.2 816.2L122.4 816.1L123.6 816.2L124.8 816.2L126 816.1L127.2 816.1L128.4 816.1L129.6 816.2L130.8 816.2L132 816.1L133.2 816.1L134.4 816.1L135.6 816.1L136.8 816.1L138 816.1L139.2 816.1L140.4 816L141.6 816L142.8 816L144 816L145.2 816L146.4 816L147.6 816L148.8 816L150 816L150 816L151.2 815.9L152.4 815.7L153.6 815.7L154.8 815.6L156 815.2L157.2 813.6L158.4 815.7L159.6 814.4L160.8 815.2L162 814.3L163.2 814.8L164.4 813.3L165.6 813.7L166.8 815.1L168 814.4L169.2 813.1L170.4 814L171.6 813.3L172.8 812.6L174 813.6L175.2 812.9L176.4 814L177.6 812.4L178.8 814.8L180 814.5L181.2 812.3L182.4 815.6L183.6 814.1L184.8 814.7L186 810.7L187.2 815.9L188.4 811.8L189.6 814L190.8 814.5L192 811.8L193 812.7L193.2 813.8L194.4 809.4L195.6 814.6L196.8 810.4L198 813.1L199.2 813.1L200.4 812.4L201.6 810L202.7 810.8L202.8 812.7L204 809.6L205.2 809.5L206.4 809.3L207.6 805L208.8 806L210 802.2L210.4 805L211.2 806.9L212.4 802.9L213.3 806.8L213.6 805.2L214.8 804.5L216 797.9L216.5 797L217.2 796L218.4 799L219.6 804.6L219.8 803.6L220.8 800.6L222 795.5L223 792.2L223.2 793.9L224.4 793.6L225.6 796L226.8 791.1L227.9 795.4L228 794.3L229.2 789.9L230.3 779.2L230.4 782.3L231.6 787.7L232.8 785.7L232.8 788L234 781.9L235.2 775.7L236.4 774.9L236.8 774.3L237.6 777.6L238.8 788L240 780.8L240 781.1L241.2 775.9L242.4 768.2L243.3 764.6L243.6 759.4L244.8 768.8L246 768.3L246.6 767.8L247.2 768.2L248.4 771.4L249 774.3L249.6 761.9L250.7 750L250.8 756.1L252 761.3L253.2 760.3L254 756.4L254.4 754.2L255.6 756L256.8 747.7L257.2 748.3L258 744.8L259.2 755L260.4 754.8L260.4 761.9L261.6 762.9L262.8 747.3L263.7 745L264 747.1L265.2 743.3L266 748.3L266.4 748.1L267.6 744.8L268.5 735.3L268.8 740.4L270 742.6L270.2 725.5L271.2 726.4L272.4 723.9L273.4 722.3L273.6 718.7L274.8 714.8L275.9 720.7L276 718.8L277.2 720.9L278.3 728.8L278.4 733.6L279.6 733.2L280.8 724.8L281.5 724L282 730L283.2 720L284.4 726.2L284.8 727.2L285.6 734.6L286.8 722.3L287.2 722.3L288 735.9L288.8 736L289.2 729.6L290.4 725L291.6 716.6L291.7 721.7L292.8 729.4L294 745L294.6 747.7L295.2 761.6L296.4 745.4L297.6 746L298.5 753.5L298.8 745.6L300 759.6L301.2 753.8L302.4 743.7L303.6 749.9L304.2 753.5L304.8 757.2L306 760.1L307.2 759.9L308 765L308.4 765.1L309.6 774.9L310 776.5L310.8 776.1L312 779.7L313.2 778.3L314.4 785.3L315.6 784.7L315.8 788L316.8 788.4L318 790.6L319.2 793L320.4 794.7L321.5 799.6L321.6 795.9L322.8 802.1L324 803.6L325.2 808.6L325.4 805.4L326.4 807.2L327.6 804.7L328.8 805.4L330 807.4L331.2 807.5L332.4 804.3L333 809.2L333.6 811.2L334.8 811.6L336 810L337.2 815.1L338.4 811.4L339.6 812.4L340.8 814L340.8 812.2L342 813.1L343.2 815.9L344.4 815.1L345.6 816.6L346.8 813.5L348 816.4L349.2 815.5L350.4 813.4L351.6 813.7L352.3 815L352.8 814.8L354 816.6L355.2 815.3L356.4 815.7L357.6 815.9L358.8 816L360 816.2L361.2 816.4L362 816.5L362.4 816.5L363.6 816.5L364.8 816.5L366 816.5L367.2 816.5L368.4 816.5L369.6 816.5L370.8 816.5L372 816.5L373.2 816.5L374.4 816.5L375.6 816.5L376.8 816.5L378 816.5L379.2 816.5L380.4 816.5L381.6 816.5L382.8 816.5L384 816.5L385.2 816.5L386.4 816.5L387.6 816.5L388.8 816.5L390 816.5L391.2 816.5L392.4 816.5L393.6 816.5L394.8 816.5L396 816.5L397.2 816.5L398.4 816.5L399.6 816.5L400.8 816.5L402 816.5L403.2 816.5L404.4 816.5L405.6 816.5L406.8 816.5L408 816.5L409.2 816.5L410.4 816.5L411.6 816.5L412.8 816.5L414 816.5L415.2 816.5L416.4 816.5L417.6 816.5L418.8 816.5L420 816.5L421.2 816.5L422.4 816.5L423.6 816.5L424.8 816.5L426 816.5L427.2 816.5L428.4 816.5L429.6 816.5L430.8 816.5L432 816.5L433.2 816.5L434.4 816.5L435.6 816.5L436.8 816.5L438 816.5L439.2 816.5L440.4 816.5L441.6 816.5L442.8 816.5L444 816.5L445.2 816.5L446.4 816.5L447.6 816.5L448.8 816.5L450 816.5L451.2 816.5L452.4 816.5L453.6 816.5L454.8 816.5L456 816.5L457.2 816.5L458.4 816.5L459.6 816.5L460.8 816.5L462 816.5L462 816.6" fill="none" stroke="#1a1a1a" stroke-width="0.8"/><path d="M60 816.5L60 816.5L61.6 816.5L63.1 816.5L64.7 816.5L66.3 816.5L67.8 816.4L69.4 816.4L71 816.4L72.6 816.4L74.1 816.4L75.7 816.4L77.3 816.4L78.8 816.3L80.4 816.3L82 816.3L83.6 816.3L85.1 816.3L86.7 816.3L88.3 816.3L89.8 816.2L91.4 816.2L93 816.2L94.5 816.2L96.1 816.2L97.7 816.2L99.2 816.2L100.8 816.2L102.4 816.1L104 816.1L105.5 816.1L107.1 816.1L108.7 816.1L110.2 816.1L111.8 816.1L113.4 816L115 816L116.5 816L118.1 816L119.7 816L120 816L121.2 815.5L122.8 814.6L124.4 814.4L125.9 814.6L127.5 814L129.1 813.2L130.7 812.9L131.5 811.7L132.2 811.2L133.8 811L135.4 811.3L136.9 812.1L138.5 812.8L139.2 812.7L140.1 813.3L141.6 812.1L143.2 813.2L144.8 812.6L146.4 812.1L147.9 811.2L148.8 812.7L149.5 810.8L151.1 813L152.6 812.5L154.2 812.1L155.8 809.3L157.3 809.2L157.5 808.8L158.9 812.2L160.5 810.4L162.1 811.8L163.6 811.4L164.2 812.7L165.2 811.7L166.8 811.8L168.3 807.8L169.9 808L171.5 806.3L172 806L173 805.9L174.6 806.5L176.2 807.6L177.8 807.3L179.3 808.2L179.6 808.8L180.9 805.4L182.5 806.5L184 804.7L185.6 804.1L187.2 801.4L188.3 801L188.7 801.3L190.3 804.1L191.9 805.8L193 808L193.5 807.4L195 803.5L196.6 798.2L197 795.4L198.2 797.7L199.7 798.8L200.8 801L201.3 798.6L202.9 800L204.4 796.9L205.6 795.4L206 794.7L207.6 789L208.5 787.7L209.2 787.5L210 790.6L210.7 789.6L212.3 782.3L213.3 777.6L213.9 775.7L215.4 769.4L217 769.3L218.1 764.6L218.6 761.9L220.1 762L221.7 761.3L222.2 759.7L223.3 749L224.6 741.8L224.9 741.4L226.4 739.2L227 733.7L228 729L229.6 727.1L230.3 727.2L231.1 723.2L232.7 716.7L232.8 715.8L234.3 711.4L235.8 710.3L236 707.6L237.4 703.2L238.5 693L239 691.9L240.6 687.9L240.9 686.5L241.7 720.7L242.1 711.3L243.3 697.9L243.7 702.1L245 704.4L245.3 702.9L246.8 693.1L248.2 689.8L248.4 685.7L250 686.6L251.5 694.6L251.5 698.9L253.1 707.3L254 712.5L254.7 706.1L255.5 701L256.2 714.7L257.2 720.7L257.8 722.7L259.4 728.1L259.6 725.5L261 730.9L262 733.7L262.5 729.7L264.1 739.2L265.3 745L265.7 750L266 758L267.2 763.5L268.8 769.1L269.3 771L270.4 771.2L272 775L273.4 776L273.5 779.7L275.1 784.4L276.7 791.1L276.7 792.2L278.2 789.5L279.8 786.8L280 787.3L281.4 792.5L282.9 799.2L283.2 800.3L284.5 802L286.1 805.7L287.7 806.8L288 808.5L288.8 807.3L289.2 807.4L290.8 808.2L292.4 810.1L292.7 811L293.9 811.3L295.5 812.9L297.1 812.6L298.5 814L298.6 812.9L300.2 814.6L301.8 814.7L303.4 813.6L304.9 816.3L306 815.5L306.5 815.3L308.1 815.6L309.6 815.8L311.2 815.9L312.8 816L314.3 816.1L315.9 816.2L317.5 816.3L319.1 816.4L320 816.5L320.6 816.5L322.2 816.5L323.8 816.5L325.3 816.5L326.9 816.5L328.5 816.5L330 816.5L331.6 816.5L333.2 816.5L334.8 816.5L336.3 816.5L337.9 816.5L339.5 816.5L341 816.5L342.6 816.5L344.2 816.5L345.7 816.5L347.3 816.5L348.9 816.5L350.5 816.5L352 816.5L353.6 816.5L355.2 816.5L356.7 816.5L358.3 816.5L359.9 816.5L361.4 816.5L363 816.5L364.6 816.5L366.2 816.5L367.7 816.5L369.3 816.5L370.9 816.5L372.4 816.5L374 816.5L375.6 816.5L377.1 816.5L378.7 816.5L380.3 816.5L381.9 816.5L383.4 816.5L385 816.5L386.6 816.5L388.1 816.5L389.7 816.5L391.3 816.5L392.8 816.5L394.4 816.5L396 816.5L397.6 816.5L399.1 816.5L400.7 816.5L402.3 816.5L403.8 816.5L405.4 816.5L407 816.5L408.5 816.5L410.1 816.5L411.7 816.5L413.3 816.5L414.8 816.5L416.4 816.5L418 816.5L419.5 816.5L421.1 816.5L422.7 816.5L424.2 816.5L425.8 816.5L427.4 816.5L429 816.5L430.5 816.5L432.1 816.5L433.7 816.5L435.2 816.5L436.8 816.5L438.4 816.5L439.9 816.5L441.5 816.5L443.1 816.5L444.7 816.5L446.2 816.5L447.8 816.5L449.4 816.5L450.9 816.5L452.5 816.5L454.1 816.5L455.6 816.5L457.2 816.5L458.8 816.5L460.4 816.5L461.9 816.5L462 816.5L462 816.6" fill="none" stroke="#000" stroke-width="1.6"/><path d="M56 648.2H60.3V816.6H462.3" fill="none" stroke="#000" stroke-width="1.4"/><path d="M60 799.8h-3.2M60 782.9h-3.2M60 766.1h-3.2M60 749.2h-3.2M60 732.4h-6M60 715.6h-3.2M60 698.7h-3.2M60 681.9h-3.2M60 665h-3.2M90.3 816.6v2.8M108 816.6v2.8M120.5 816.6v2.8M130.2 816.6v2.8M138.2 816.6v2.8M144.9 816.6v2.8M150.8 816.6v2.8M155.9 816.6v2.8M190.8 816.6v2.8M208.5 816.6v2.8M221 816.6v2.8M230.7 816.6v2.8M238.7 816.6v2.8M245.4 816.6v2.8M251.3 816.6v2.8M256.4 816.6v2.8M291.3 816.6v2.8M309 816.6v2.8M321.5 816.6v2.8M331.2 816.6v2.8M339.2 816.6v2.8M345.9 816.6v2.8M351.8 816.6v2.8M356.9 816.6v2.8M391.8 816.6v2.8M409.5 816.6v2.8M422 816.6v2.8M431.7 816.6v2.8M439.7 816.6v2.8M446.4 816.6v2.8M452.3 816.6v2.8M457.4 816.6v2.8M60 816.6v4.5M160.5 816.6v4.5M261 816.6v4.5M361.5 816.6v4.5M462 816.6v4.5" stroke="#000" stroke-width="1.25"/><g font-family='"Liberation Mono", monospace' font-size="10.5" fill="#000" stroke="#000" stroke-width="0.25"><text transform="translate(53 650.7) rotate(-90)" text-anchor="middle">150</text><text transform="translate(53 816.6) rotate(-90)" text-anchor="middle">0</text><text x="51.6" y="829.5" font-size="11.5" textLength="10.8" lengthAdjust="spacingAndGlyphs">10</text><text x="64.3" y="825.5" font-size="7.6">0</text><text x="152.1" y="829.5" font-size="11.5" textLength="10.8" lengthAdjust="spacingAndGlyphs">10</text><text x="164.8" y="825.5" font-size="7.6">1</text><text x="252.6" y="829.5" font-size="11.5" textLength="10.8" lengthAdjust="spacingAndGlyphs">10</text><text x="265.3" y="825.5" font-size="7.6">2</text><text x="353.1" y="829.5" font-size="11.5" textLength="10.8" lengthAdjust="spacingAndGlyphs">10</text><text x="365.8" y="825.5" font-size="7.6">3</text><text x="453.6" y="829.5" font-size="11.5" textLength="10.8" lengthAdjust="spacingAndGlyphs">10</text><text x="466.3" y="825.5" font-size="7.6">4</text></g><text x="75.2" y="664" font-family='"Liberation Sans", sans-serif' font-weight="bold" font-size="17.8" textLength="49" lengthAdjust="spacingAndGlyphs">CD31</text><text x="169" y="710.9" font-family='"Liberation Mono", monospace' font-size="11.6" stroke="#000" stroke-width="0.3" textLength="53" lengthAdjust="spacingAndGlyphs">UT-7/fus</text><text x="302.3" y="743.6" font-family='"Liberation Mono", monospace' font-size="11.6" stroke="#000" stroke-width="0.3" textLength="80.8" lengthAdjust="spacingAndGlyphs">UT-7/fus HIV</text><g font-family='"Liberation Serif", serif' font-weight="bold" font-size="24" fill="#000" stroke="#000" stroke-width="0.6"><text transform="translate(38.2 698.2) rotate(-90.43) scale(0.86 1)" text-anchor="middle">C</text><text transform="translate(38 669.4) rotate(-90.43) scale(0.86 1)" text-anchor="middle">o</text><text transform="translate(37.8 643.7) rotate(-90.43) scale(0.86 1)" text-anchor="middle">u</text><text transform="translate(37.6 617.7) rotate(-90.43) scale(0.86 1)" text-anchor="middle">n</text><text transform="translate(37.4 593.6) rotate(-90.43) scale(0.86 1)" text-anchor="middle">t</text><text transform="translate(37.3 570.8) rotate(-90.43) scale(0.86 1)" text-anchor="middle">s</text><text transform="translate(36.9 527.3) rotate(-90.43) scale(0.86 1)" text-anchor="middle">f</text><text transform="translate(36.8 504.5) rotate(-90.43) scale(0.86 1)" text-anchor="middle">u</text><text transform="translate(36.6 479.1) rotate(-90.43) scale(0.86 1)" text-anchor="middle">l</text><text transform="translate(36.4 457.7) rotate(-90.43) scale(0.86 1)" text-anchor="middle">l</text><text transform="translate(36.1 415) rotate(-90.43) scale(0.86 1)" text-anchor="middle">s</text><text transform="translate(35.9 390.9) rotate(-90.43) scale(0.86 1)" text-anchor="middle">c</text><text transform="translate(35.7 368.2) rotate(-90.43) scale(0.86 1)" text-anchor="middle">a</text><text transform="translate(35.6 344) rotate(-90.43) scale(0.86 1)" text-anchor="middle">l</text><text transform="translate(35.4 322.3) rotate(-90.43) scale(0.86 1)" text-anchor="middle">e</text></g><g font-family='"Liberation Serif", serif' font-weight="bold" font-size="24" fill="#000" stroke="#000" stroke-width="0.6"><text transform="translate(72 857.7) rotate(-0.77) scale(0.84 1)" text-anchor="middle">F</text><text transform="translate(90.8 857.4) rotate(-0.77) scale(0.84 1)" text-anchor="middle">l</text><text transform="translate(109.5 857.2) rotate(-0.77) scale(0.84 1)" text-anchor="middle">u</text><text transform="translate(129.2 856.9) rotate(-0.77) scale(0.84 1)" text-anchor="middle">o</text><text transform="translate(150.4 856.6) rotate(-0.77) scale(0.84 1)" text-anchor="middle">r</text><text transform="translate(171.5 856.4) rotate(-0.77) scale(0.84 1)" text-anchor="middle">e</text><text transform="translate(189.4 856.1) rotate(-0.77) scale(0.84 1)" text-anchor="middle">s</text><text transform="translate(209.2 855.8) rotate(-0.77) scale(0.84 1)" text-anchor="middle">c</text><text transform="translate(227.8 855.6) rotate(-0.77) scale(0.84 1)" text-anchor="middle">e</text><text transform="translate(248.3 855.3) rotate(-0.77) scale(0.84 1)" text-anchor="middle">n</text><text transform="translate(269.3 855) rotate(-0.77) scale(0.84 1)" text-anchor="middle">c</text><text transform="translate(288.1 854.8) rotate(-0.77) scale(0.84 1)" text-anchor="middle">e</text><text transform="translate(321.2 854.3) rotate(-0.77) scale(0.84 1)" text-anchor="middle">i</text><text transform="translate(340.5 854.1) rotate(-0.77) scale(0.84 1)" text-anchor="middle">n</text><text transform="translate(359.3 853.8) rotate(-0.77) scale(0.84 1)" text-anchor="middle">t</text><text transform="translate(376.9 853.6) rotate(-0.77) scale(0.84 1)" text-anchor="middle">e</text><text transform="translate(398.3 853.3) rotate(-0.77) scale(0.84 1)" text-anchor="middle">n</text><text transform="translate(416.5 853) rotate(-0.77) scale(0.84 1)" text-anchor="middle">s</text><text transform="translate(434.5 852.8) rotate(-0.77) scale(0.84 1)" text-anchor="middle">i</text><text transform="translate(451 852.6) rotate(-0.77) scale(0.84 1)" text-anchor="middle">t</text><text transform="translate(469 852.3) rotate(-0.77) scale(0.84 1)" text-anchor="middle">y</text></g></svg></body></html>
